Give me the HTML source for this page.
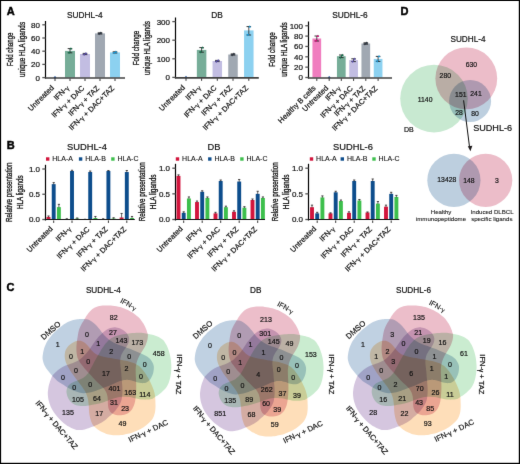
<!DOCTYPE html>
<html><head><meta charset="utf-8"><style>
html,body{margin:0;padding:0;background:#fff;}
svg{display:block;font-family:"Liberation Sans", sans-serif;will-change:transform;}
</style></head><body>
<svg width="520" height="464" viewBox="0 0 520 464">
<defs><filter id="soft" x="0" y="0" width="520" height="464" filterUnits="userSpaceOnUse" color-interpolation-filters="sRGB"><feConvolveMatrix order="3" kernelMatrix="0.00524 0.06192 0.00524 0.06192 0.73137 0.06192 0.00524 0.06192 0.00524" edgeMode="duplicate"/></filter></defs>
<g filter="url(#soft)">
<rect x="0" y="0" width="520" height="464" fill="#fff"/>
<line x1="45.50" y1="21.00" x2="45.50" y2="78.60" stroke="#000" stroke-width="1.2"/>
<line x1="42.30" y1="77.60" x2="45.50" y2="77.60" stroke="#555" stroke-width="1.3"/>
<text x="40.00" y="80.50" font-size="8" text-anchor="end" fill="#111" stroke="#111" stroke-width="0.2">0</text>
<line x1="42.30" y1="64.40" x2="45.50" y2="64.40" stroke="#555" stroke-width="1.3"/>
<text x="40.00" y="67.30" font-size="8" text-anchor="end" fill="#111" stroke="#111" stroke-width="0.2">20</text>
<line x1="42.30" y1="51.20" x2="45.50" y2="51.20" stroke="#555" stroke-width="1.3"/>
<text x="40.00" y="54.10" font-size="8" text-anchor="end" fill="#111" stroke="#111" stroke-width="0.2">40</text>
<line x1="42.30" y1="38.00" x2="45.50" y2="38.00" stroke="#555" stroke-width="1.3"/>
<text x="40.00" y="40.90" font-size="8" text-anchor="end" fill="#111" stroke="#111" stroke-width="0.2">60</text>
<line x1="42.30" y1="24.80" x2="45.50" y2="24.80" stroke="#555" stroke-width="1.3"/>
<text x="40.00" y="27.70" font-size="8" text-anchor="end" fill="#111" stroke="#111" stroke-width="0.2">80</text>
<path d="M53.50,77.60 L55.00,76.00 L56.50,77.60 L55.00,79.20 Z" fill="#1f55a5"/>
<rect x="65.00" y="50.90" width="10.00" height="26.70" fill="#76ad98"/>
<line x1="70.00" y1="48.60" x2="70.00" y2="52.80" stroke="#222" stroke-width="0.8"/>
<line x1="67.70" y1="48.60" x2="72.30" y2="48.60" stroke="#222" stroke-width="0.9"/>
<line x1="67.70" y1="52.80" x2="72.30" y2="52.80" stroke="#222" stroke-width="0.9"/>
<path d="M69.50,49.50 L72.30,49.50 L70.90,47.30 Z" fill="#14704c"/>
<path d="M67.70,51.90 L70.50,51.90 L69.10,54.10 Z" fill="#14704c"/>
<rect x="80.00" y="54.00" width="10.00" height="23.60" fill="#c2bde2"/>
<line x1="85.00" y1="53.40" x2="85.00" y2="54.60" stroke="#222" stroke-width="0.8"/>
<line x1="82.70" y1="53.40" x2="87.30" y2="53.40" stroke="#222" stroke-width="0.9"/>
<line x1="82.70" y1="54.60" x2="87.30" y2="54.60" stroke="#222" stroke-width="0.9"/>
<path d="M84.50,54.30 L87.30,54.30 L85.90,52.10 Z" fill="#5a4eae"/>
<path d="M82.70,53.70 L85.50,53.70 L84.10,55.90 Z" fill="#5a4eae"/>
<rect x="95.00" y="33.40" width="10.00" height="44.20" fill="#a0a8b2"/>
<line x1="100.00" y1="32.80" x2="100.00" y2="34.00" stroke="#222" stroke-width="0.8"/>
<line x1="97.70" y1="32.80" x2="102.30" y2="32.80" stroke="#222" stroke-width="0.9"/>
<line x1="97.70" y1="34.00" x2="102.30" y2="34.00" stroke="#222" stroke-width="0.9"/>
<path d="M99.50,33.70 L102.30,33.70 L100.90,31.50 Z" fill="#2b3440"/>
<path d="M97.70,33.10 L100.50,33.10 L99.10,35.30 Z" fill="#2b3440"/>
<rect x="110.00" y="52.40" width="10.00" height="25.20" fill="#8cd1f0"/>
<line x1="115.00" y1="51.80" x2="115.00" y2="53.00" stroke="#222" stroke-width="0.8"/>
<line x1="112.70" y1="51.80" x2="117.30" y2="51.80" stroke="#222" stroke-width="0.9"/>
<line x1="112.70" y1="53.00" x2="117.30" y2="53.00" stroke="#222" stroke-width="0.9"/>
<path d="M114.50,52.70 L117.30,52.70 L115.90,50.50 Z" fill="#1697d8"/>
<path d="M112.70,52.10 L115.50,52.10 L114.10,54.30 Z" fill="#1697d8"/>
<line x1="44.90" y1="78.05" x2="125.00" y2="78.05" stroke="#404040" stroke-width="1.55"/>
<line x1="55.00" y1="78.60" x2="55.00" y2="81.00" stroke="#333" stroke-width="1.0"/>
<line x1="70.00" y1="78.60" x2="70.00" y2="81.00" stroke="#333" stroke-width="1.0"/>
<line x1="85.00" y1="78.60" x2="85.00" y2="81.00" stroke="#333" stroke-width="1.0"/>
<line x1="100.00" y1="78.60" x2="100.00" y2="81.00" stroke="#333" stroke-width="1.0"/>
<line x1="115.00" y1="78.60" x2="115.00" y2="81.00" stroke="#333" stroke-width="1.0"/>
<text x="0.00" y="0.00" font-size="7.5" text-anchor="end" transform="translate(54.40,88.30) rotate(-45)" fill="#111" stroke="#111" stroke-width="0.2">Untreated</text>
<text x="0.00" y="0.00" font-size="7.5" text-anchor="end" transform="translate(69.40,88.30) rotate(-45)" fill="#111" stroke="#111" stroke-width="0.2">IFN-<tspan font-size="0.85em" dy="0.6">γ</tspan><tspan dy="-0.6"></tspan></text>
<text x="0.00" y="0.00" font-size="7.5" text-anchor="end" transform="translate(84.40,88.30) rotate(-45)" fill="#111" stroke="#111" stroke-width="0.2">IFN-<tspan font-size="0.85em" dy="0.6">γ</tspan><tspan dy="-0.6"></tspan> + DAC</text>
<text x="0.00" y="0.00" font-size="7.5" text-anchor="end" transform="translate(99.40,88.30) rotate(-45)" fill="#111" stroke="#111" stroke-width="0.2">IFN-<tspan font-size="0.85em" dy="0.6">γ</tspan><tspan dy="-0.6"></tspan> + TAZ</text>
<text x="0.00" y="0.00" font-size="7.5" text-anchor="end" transform="translate(114.40,88.30) rotate(-45)" fill="#111" stroke="#111" stroke-width="0.2">IFN-<tspan font-size="0.85em" dy="0.6">γ</tspan><tspan dy="-0.6"></tspan> + DAC+TAZ</text>
<text x="84.80" y="18.20" font-size="8.3" text-anchor="middle" fill="#111" stroke="#111" stroke-width="0.2">SUDHL-4</text>
<text x="0.00" y="0.00" font-size="8.2" text-anchor="middle" textLength="33.8" lengthAdjust="spacingAndGlyphs" transform="translate(13.40,49.40) rotate(-90)" fill="#111" stroke="#111" stroke-width="0.3">Fold change</text>
<text x="0.00" y="0.00" font-size="8.2" text-anchor="middle" textLength="55" lengthAdjust="spacingAndGlyphs" transform="translate(25.20,49.40) rotate(-90)" fill="#111" stroke="#111" stroke-width="0.3">unique HLA ligands</text>
<line x1="175.50" y1="17.50" x2="175.50" y2="78.40" stroke="#000" stroke-width="1.2"/>
<line x1="172.30" y1="77.40" x2="175.50" y2="77.40" stroke="#555" stroke-width="1.3"/>
<text x="170.00" y="80.30" font-size="8" text-anchor="end" fill="#111" stroke="#111" stroke-width="0.2">0</text>
<line x1="172.30" y1="58.80" x2="175.50" y2="58.80" stroke="#555" stroke-width="1.3"/>
<text x="170.00" y="61.70" font-size="8" text-anchor="end" fill="#111" stroke="#111" stroke-width="0.2">100</text>
<line x1="172.30" y1="40.20" x2="175.50" y2="40.20" stroke="#555" stroke-width="1.3"/>
<text x="170.00" y="43.10" font-size="8" text-anchor="end" fill="#111" stroke="#111" stroke-width="0.2">200</text>
<line x1="172.30" y1="21.60" x2="175.50" y2="21.60" stroke="#555" stroke-width="1.3"/>
<text x="170.00" y="24.50" font-size="8" text-anchor="end" fill="#111" stroke="#111" stroke-width="0.2">300</text>
<path d="M184.50,77.40 L186.00,75.80 L187.50,77.40 L186.00,79.00 Z" fill="#1f55a5"/>
<rect x="196.85" y="49.90" width="9.50" height="27.50" fill="#76ad98"/>
<line x1="201.60" y1="47.60" x2="201.60" y2="52.20" stroke="#222" stroke-width="0.8"/>
<line x1="199.30" y1="47.60" x2="203.90" y2="47.60" stroke="#222" stroke-width="0.9"/>
<line x1="199.30" y1="52.20" x2="203.90" y2="52.20" stroke="#222" stroke-width="0.9"/>
<path d="M201.10,48.50 L203.90,48.50 L202.50,46.30 Z" fill="#14704c"/>
<path d="M199.30,51.30 L202.10,51.30 L200.70,53.50 Z" fill="#14704c"/>
<rect x="212.55" y="61.00" width="9.50" height="16.40" fill="#c2bde2"/>
<line x1="217.30" y1="60.40" x2="217.30" y2="61.60" stroke="#222" stroke-width="0.8"/>
<line x1="215.00" y1="60.40" x2="219.60" y2="60.40" stroke="#222" stroke-width="0.9"/>
<line x1="215.00" y1="61.60" x2="219.60" y2="61.60" stroke="#222" stroke-width="0.9"/>
<path d="M216.80,61.30 L219.60,61.30 L218.20,59.10 Z" fill="#5a4eae"/>
<path d="M215.00,60.70 L217.80,60.70 L216.40,62.90 Z" fill="#5a4eae"/>
<rect x="228.25" y="54.50" width="9.50" height="22.90" fill="#a0a8b2"/>
<line x1="233.00" y1="53.90" x2="233.00" y2="55.10" stroke="#222" stroke-width="0.8"/>
<line x1="230.70" y1="53.90" x2="235.30" y2="53.90" stroke="#222" stroke-width="0.9"/>
<line x1="230.70" y1="55.10" x2="235.30" y2="55.10" stroke="#222" stroke-width="0.9"/>
<path d="M232.50,54.80 L235.30,54.80 L233.90,52.60 Z" fill="#2b3440"/>
<path d="M230.70,54.20 L233.50,54.20 L232.10,56.40 Z" fill="#2b3440"/>
<rect x="244.05" y="30.40" width="9.50" height="47.00" fill="#8cd1f0"/>
<line x1="248.80" y1="26.60" x2="248.80" y2="35.00" stroke="#222" stroke-width="0.8"/>
<line x1="246.50" y1="26.60" x2="251.10" y2="26.60" stroke="#222" stroke-width="0.9"/>
<line x1="246.50" y1="35.00" x2="251.10" y2="35.00" stroke="#222" stroke-width="0.9"/>
<path d="M248.30,27.50 L251.10,27.50 L249.70,25.30 Z" fill="#1697d8"/>
<path d="M246.50,34.10 L249.30,34.10 L247.90,36.30 Z" fill="#1697d8"/>
<line x1="174.90" y1="77.85" x2="258.80" y2="77.85" stroke="#404040" stroke-width="1.55"/>
<line x1="186.00" y1="78.40" x2="186.00" y2="80.80" stroke="#333" stroke-width="1.0"/>
<line x1="201.60" y1="78.40" x2="201.60" y2="80.80" stroke="#333" stroke-width="1.0"/>
<line x1="217.30" y1="78.40" x2="217.30" y2="80.80" stroke="#333" stroke-width="1.0"/>
<line x1="233.00" y1="78.40" x2="233.00" y2="80.80" stroke="#333" stroke-width="1.0"/>
<line x1="248.80" y1="78.40" x2="248.80" y2="80.80" stroke="#333" stroke-width="1.0"/>
<text x="0.00" y="0.00" font-size="7.5" text-anchor="end" transform="translate(185.40,88.10) rotate(-45)" fill="#111" stroke="#111" stroke-width="0.2">Untreated</text>
<text x="0.00" y="0.00" font-size="7.5" text-anchor="end" transform="translate(201.00,88.10) rotate(-45)" fill="#111" stroke="#111" stroke-width="0.2">IFN-<tspan font-size="0.85em" dy="0.6">γ</tspan><tspan dy="-0.6"></tspan></text>
<text x="0.00" y="0.00" font-size="7.5" text-anchor="end" transform="translate(216.70,88.10) rotate(-45)" fill="#111" stroke="#111" stroke-width="0.2">IFN-<tspan font-size="0.85em" dy="0.6">γ</tspan><tspan dy="-0.6"></tspan> + DAC</text>
<text x="0.00" y="0.00" font-size="7.5" text-anchor="end" transform="translate(232.40,88.10) rotate(-45)" fill="#111" stroke="#111" stroke-width="0.2">IFN-<tspan font-size="0.85em" dy="0.6">γ</tspan><tspan dy="-0.6"></tspan> + TAZ</text>
<text x="0.00" y="0.00" font-size="7.5" text-anchor="end" transform="translate(248.20,88.10) rotate(-45)" fill="#111" stroke="#111" stroke-width="0.2">IFN-<tspan font-size="0.85em" dy="0.6">γ</tspan><tspan dy="-0.6"></tspan> + DAC+TAZ</text>
<text x="217.00" y="18.20" font-size="8.3" text-anchor="middle" fill="#111" stroke="#111" stroke-width="0.2">DB</text>
<text x="0.00" y="0.00" font-size="8.2" text-anchor="middle" textLength="34.7" lengthAdjust="spacingAndGlyphs" transform="translate(138.60,48.00) rotate(-90)" fill="#111" stroke="#111" stroke-width="0.3">Fold change</text>
<text x="0.00" y="0.00" font-size="8.2" text-anchor="middle" textLength="53.8" lengthAdjust="spacingAndGlyphs" transform="translate(150.20,48.00) rotate(-90)" fill="#111" stroke="#111" stroke-width="0.3">unique HLA ligands</text>
<line x1="308.50" y1="21.50" x2="308.50" y2="78.50" stroke="#000" stroke-width="1.2"/>
<line x1="305.30" y1="77.50" x2="308.50" y2="77.50" stroke="#555" stroke-width="1.3"/>
<text x="303.00" y="80.40" font-size="8" text-anchor="end" fill="#111" stroke="#111" stroke-width="0.2">0</text>
<line x1="305.30" y1="67.15" x2="308.50" y2="67.15" stroke="#555" stroke-width="1.3"/>
<text x="303.00" y="70.05" font-size="8" text-anchor="end" fill="#111" stroke="#111" stroke-width="0.2">20</text>
<line x1="305.30" y1="56.80" x2="308.50" y2="56.80" stroke="#555" stroke-width="1.3"/>
<text x="303.00" y="59.70" font-size="8" text-anchor="end" fill="#111" stroke="#111" stroke-width="0.2">40</text>
<line x1="305.30" y1="46.45" x2="308.50" y2="46.45" stroke="#555" stroke-width="1.3"/>
<text x="303.00" y="49.35" font-size="8" text-anchor="end" fill="#111" stroke="#111" stroke-width="0.2">60</text>
<line x1="305.30" y1="36.10" x2="308.50" y2="36.10" stroke="#555" stroke-width="1.3"/>
<text x="303.00" y="39.00" font-size="8" text-anchor="end" fill="#111" stroke="#111" stroke-width="0.2">80</text>
<line x1="305.30" y1="25.75" x2="308.50" y2="25.75" stroke="#555" stroke-width="1.3"/>
<text x="303.00" y="28.65" font-size="8" text-anchor="end" fill="#111" stroke="#111" stroke-width="0.2">100</text>
<rect x="312.45" y="38.50" width="8.70" height="39.00" fill="#f07dbf"/>
<line x1="316.80" y1="36.00" x2="316.80" y2="41.00" stroke="#222" stroke-width="0.8"/>
<line x1="314.50" y1="36.00" x2="319.10" y2="36.00" stroke="#222" stroke-width="0.9"/>
<line x1="314.50" y1="41.00" x2="319.10" y2="41.00" stroke="#222" stroke-width="0.9"/>
<path d="M316.30,36.90 L319.10,36.90 L317.70,34.70 Z" fill="#d4147c"/>
<path d="M314.50,40.10 L317.30,40.10 L315.90,42.30 Z" fill="#d4147c"/>
<path d="M327.70,77.50 L329.20,75.90 L330.70,77.50 L329.20,79.10 Z" fill="#1f55a5"/>
<rect x="336.95" y="56.20" width="8.70" height="21.30" fill="#76ad98"/>
<line x1="341.30" y1="55.00" x2="341.30" y2="57.60" stroke="#222" stroke-width="0.8"/>
<line x1="339.00" y1="55.00" x2="343.60" y2="55.00" stroke="#222" stroke-width="0.9"/>
<line x1="339.00" y1="57.60" x2="343.60" y2="57.60" stroke="#222" stroke-width="0.9"/>
<path d="M340.80,55.90 L343.60,55.90 L342.20,53.70 Z" fill="#14704c"/>
<path d="M339.00,56.70 L341.80,56.70 L340.40,58.90 Z" fill="#14704c"/>
<rect x="349.25" y="60.10" width="8.70" height="17.40" fill="#c2bde2"/>
<line x1="353.60" y1="58.80" x2="353.60" y2="61.60" stroke="#222" stroke-width="0.8"/>
<line x1="351.30" y1="58.80" x2="355.90" y2="58.80" stroke="#222" stroke-width="0.9"/>
<line x1="351.30" y1="61.60" x2="355.90" y2="61.60" stroke="#222" stroke-width="0.9"/>
<path d="M353.10,59.70 L355.90,59.70 L354.50,57.50 Z" fill="#5a4eae"/>
<path d="M351.30,60.70 L354.10,60.70 L352.70,62.90 Z" fill="#5a4eae"/>
<rect x="361.45" y="43.50" width="8.70" height="34.00" fill="#a0a8b2"/>
<line x1="365.80" y1="42.80" x2="365.80" y2="44.20" stroke="#222" stroke-width="0.8"/>
<line x1="363.50" y1="42.80" x2="368.10" y2="42.80" stroke="#222" stroke-width="0.9"/>
<line x1="363.50" y1="44.20" x2="368.10" y2="44.20" stroke="#222" stroke-width="0.9"/>
<path d="M365.30,43.70 L368.10,43.70 L366.70,41.50 Z" fill="#2b3440"/>
<path d="M363.50,43.30 L366.30,43.30 L364.90,45.50 Z" fill="#2b3440"/>
<rect x="373.75" y="58.90" width="8.70" height="18.60" fill="#8cd1f0"/>
<line x1="378.10" y1="56.40" x2="378.10" y2="61.40" stroke="#222" stroke-width="0.8"/>
<line x1="375.80" y1="56.40" x2="380.40" y2="56.40" stroke="#222" stroke-width="0.9"/>
<line x1="375.80" y1="61.40" x2="380.40" y2="61.40" stroke="#222" stroke-width="0.9"/>
<path d="M377.60,57.30 L380.40,57.30 L379.00,55.10 Z" fill="#1697d8"/>
<path d="M375.80,60.50 L378.60,60.50 L377.20,62.70 Z" fill="#1697d8"/>
<line x1="307.90" y1="77.95" x2="392.00" y2="77.95" stroke="#404040" stroke-width="1.55"/>
<line x1="316.80" y1="78.50" x2="316.80" y2="80.90" stroke="#333" stroke-width="1.0"/>
<line x1="329.20" y1="78.50" x2="329.20" y2="80.90" stroke="#333" stroke-width="1.0"/>
<line x1="341.30" y1="78.50" x2="341.30" y2="80.90" stroke="#333" stroke-width="1.0"/>
<line x1="353.60" y1="78.50" x2="353.60" y2="80.90" stroke="#333" stroke-width="1.0"/>
<line x1="365.80" y1="78.50" x2="365.80" y2="80.90" stroke="#333" stroke-width="1.0"/>
<line x1="378.10" y1="78.50" x2="378.10" y2="80.90" stroke="#333" stroke-width="1.0"/>
<text x="0.00" y="0.00" font-size="7.5" text-anchor="end" transform="translate(316.20,88.60) rotate(-45)" fill="#111" stroke="#111" stroke-width="0.2">Healthy B cells</text>
<text x="0.00" y="0.00" font-size="7.5" text-anchor="end" transform="translate(328.60,88.60) rotate(-45)" fill="#111" stroke="#111" stroke-width="0.2">Untreated</text>
<text x="0.00" y="0.00" font-size="7.5" text-anchor="end" transform="translate(340.70,88.60) rotate(-45)" fill="#111" stroke="#111" stroke-width="0.2">IFN-<tspan font-size="0.85em" dy="0.6">γ</tspan><tspan dy="-0.6"></tspan></text>
<text x="0.00" y="0.00" font-size="7.5" text-anchor="end" transform="translate(353.00,88.60) rotate(-45)" fill="#111" stroke="#111" stroke-width="0.2">IFN-<tspan font-size="0.85em" dy="0.6">γ</tspan><tspan dy="-0.6"></tspan> + DAC</text>
<text x="0.00" y="0.00" font-size="7.5" text-anchor="end" transform="translate(365.20,88.60) rotate(-45)" fill="#111" stroke="#111" stroke-width="0.2">IFN-<tspan font-size="0.85em" dy="0.6">γ</tspan><tspan dy="-0.6"></tspan> + TAZ</text>
<text x="0.00" y="0.00" font-size="7.5" text-anchor="end" transform="translate(377.50,88.60) rotate(-45)" fill="#111" stroke="#111" stroke-width="0.2">IFN-<tspan font-size="0.85em" dy="0.6">γ</tspan><tspan dy="-0.6"></tspan> + DAC+TAZ</text>
<text x="350.00" y="18.20" font-size="8.3" text-anchor="middle" fill="#111" stroke="#111" stroke-width="0.2">SUDHL-6</text>
<text x="0.00" y="0.00" font-size="8.2" text-anchor="middle" textLength="34.5" lengthAdjust="spacingAndGlyphs" transform="translate(275.20,49.60) rotate(-90)" fill="#111" stroke="#111" stroke-width="0.3">Fold change</text>
<text x="0.00" y="0.00" font-size="8.2" text-anchor="middle" textLength="54.3" lengthAdjust="spacingAndGlyphs" transform="translate(287.20,49.60) rotate(-90)" fill="#111" stroke="#111" stroke-width="0.3">unique HLA ligands</text>
<text x="6.70" y="14.70" font-size="11" text-anchor="start" font-weight="bold" fill="#000" stroke="#000" stroke-width="0.45">A</text>
<text x="6.80" y="149.10" font-size="11" text-anchor="start" font-weight="bold" fill="#000" stroke="#000" stroke-width="0.45">B</text>
<text x="6.60" y="291.10" font-size="11" text-anchor="start" font-weight="bold" fill="#000" stroke="#000" stroke-width="0.45">C</text>
<text x="400.60" y="14.60" font-size="11" text-anchor="start" font-weight="bold" fill="#000" stroke="#000" stroke-width="0.45">D</text>
<line x1="45.50" y1="164.80" x2="45.50" y2="220.50" stroke="#000" stroke-width="1.2"/>
<line x1="42.30" y1="219.50" x2="45.50" y2="219.50" stroke="#555" stroke-width="1.3"/>
<text x="40.00" y="222.40" font-size="8" text-anchor="end" fill="#111" stroke="#111" stroke-width="0.2">0.0</text>
<line x1="42.30" y1="194.25" x2="45.50" y2="194.25" stroke="#555" stroke-width="1.3"/>
<text x="40.00" y="197.15" font-size="8" text-anchor="end" fill="#111" stroke="#111" stroke-width="0.2">0.5</text>
<line x1="42.30" y1="169.00" x2="45.50" y2="169.00" stroke="#555" stroke-width="1.3"/>
<text x="40.00" y="171.90" font-size="8" text-anchor="end" fill="#111" stroke="#111" stroke-width="0.2">1.0</text>
<rect x="46.55" y="216.97" width="3.90" height="2.53" fill="#d2153c"/>
<line x1="48.50" y1="215.97" x2="48.50" y2="217.28" stroke="#231f20" stroke-width="0.7"/>
<line x1="47.40" y1="215.97" x2="49.60" y2="215.97" stroke="#231f20" stroke-width="0.8"/>
<rect x="51.75" y="184.15" width="3.90" height="35.35" fill="#0d4d8c"/>
<line x1="53.70" y1="182.63" x2="53.70" y2="184.45" stroke="#231f20" stroke-width="0.7"/>
<line x1="52.60" y1="182.63" x2="54.80" y2="182.63" stroke="#231f20" stroke-width="0.8"/>
<rect x="56.95" y="207.13" width="3.90" height="12.37" fill="#3dbf4c"/>
<line x1="58.90" y1="204.35" x2="58.90" y2="207.43" stroke="#231f20" stroke-width="0.7"/>
<line x1="57.80" y1="204.35" x2="60.00" y2="204.35" stroke="#231f20" stroke-width="0.8"/>
<rect x="64.85" y="219.00" width="3.90" height="0.50" fill="#d2153c"/>
<line x1="66.80" y1="218.74" x2="66.80" y2="219.30" stroke="#231f20" stroke-width="0.7"/>
<line x1="65.70" y1="218.74" x2="67.90" y2="218.74" stroke="#231f20" stroke-width="0.8"/>
<rect x="70.05" y="171.02" width="3.90" height="48.48" fill="#0d4d8c"/>
<line x1="72.00" y1="170.26" x2="72.00" y2="171.32" stroke="#231f20" stroke-width="0.7"/>
<line x1="70.90" y1="170.26" x2="73.10" y2="170.26" stroke="#231f20" stroke-width="0.8"/>
<rect x="75.25" y="218.49" width="3.90" height="1.01" fill="#3dbf4c"/>
<line x1="77.20" y1="217.99" x2="77.20" y2="218.79" stroke="#231f20" stroke-width="0.7"/>
<line x1="76.10" y1="217.99" x2="78.30" y2="217.99" stroke="#231f20" stroke-width="0.8"/>
<rect x="83.05" y="219.25" width="3.90" height="0.25" fill="#d2153c"/>
<line x1="85.00" y1="219.25" x2="85.00" y2="219.55" stroke="#231f20" stroke-width="0.7"/>
<line x1="83.90" y1="219.25" x2="86.10" y2="219.25" stroke="#231f20" stroke-width="0.8"/>
<rect x="88.25" y="172.03" width="3.90" height="47.47" fill="#0d4d8c"/>
<line x1="90.20" y1="171.02" x2="90.20" y2="172.33" stroke="#231f20" stroke-width="0.7"/>
<line x1="89.10" y1="171.02" x2="91.30" y2="171.02" stroke="#231f20" stroke-width="0.8"/>
<rect x="93.45" y="217.99" width="3.90" height="1.51" fill="#3dbf4c"/>
<line x1="95.40" y1="216.47" x2="95.40" y2="218.29" stroke="#231f20" stroke-width="0.7"/>
<line x1="94.30" y1="216.47" x2="96.50" y2="216.47" stroke="#231f20" stroke-width="0.8"/>
<rect x="101.25" y="219.00" width="3.90" height="0.50" fill="#d2153c"/>
<line x1="103.20" y1="218.74" x2="103.20" y2="219.30" stroke="#231f20" stroke-width="0.7"/>
<line x1="102.10" y1="218.74" x2="104.30" y2="218.74" stroke="#231f20" stroke-width="0.8"/>
<rect x="106.45" y="171.02" width="3.90" height="48.48" fill="#0d4d8c"/>
<line x1="108.40" y1="170.51" x2="108.40" y2="171.32" stroke="#231f20" stroke-width="0.7"/>
<line x1="107.30" y1="170.51" x2="109.50" y2="170.51" stroke="#231f20" stroke-width="0.8"/>
<rect x="111.65" y="218.49" width="3.90" height="1.01" fill="#3dbf4c"/>
<line x1="113.60" y1="217.73" x2="113.60" y2="218.79" stroke="#231f20" stroke-width="0.7"/>
<line x1="112.50" y1="217.73" x2="114.70" y2="217.73" stroke="#231f20" stroke-width="0.8"/>
<rect x="119.65" y="217.48" width="3.90" height="2.02" fill="#d2153c"/>
<line x1="121.60" y1="213.44" x2="121.60" y2="217.78" stroke="#231f20" stroke-width="0.7"/>
<line x1="120.50" y1="213.44" x2="122.70" y2="213.44" stroke="#231f20" stroke-width="0.8"/>
<rect x="124.85" y="172.03" width="3.90" height="47.47" fill="#0d4d8c"/>
<line x1="126.80" y1="170.51" x2="126.80" y2="172.33" stroke="#231f20" stroke-width="0.7"/>
<line x1="125.70" y1="170.51" x2="127.90" y2="170.51" stroke="#231f20" stroke-width="0.8"/>
<rect x="130.05" y="217.99" width="3.90" height="1.51" fill="#3dbf4c"/>
<line x1="132.00" y1="216.47" x2="132.00" y2="218.29" stroke="#231f20" stroke-width="0.7"/>
<line x1="130.90" y1="216.47" x2="133.10" y2="216.47" stroke="#231f20" stroke-width="0.8"/>
<line x1="44.90" y1="219.50" x2="134.80" y2="219.50" stroke="#111" stroke-width="1.0"/>
<line x1="53.70" y1="220.50" x2="53.70" y2="222.90" stroke="#333" stroke-width="1.0"/>
<line x1="72.00" y1="220.50" x2="72.00" y2="222.90" stroke="#333" stroke-width="1.0"/>
<line x1="90.20" y1="220.50" x2="90.20" y2="222.90" stroke="#333" stroke-width="1.0"/>
<line x1="108.40" y1="220.50" x2="108.40" y2="222.90" stroke="#333" stroke-width="1.0"/>
<line x1="126.80" y1="220.50" x2="126.80" y2="222.90" stroke="#333" stroke-width="1.0"/>
<text x="0.00" y="0.00" font-size="7.5" text-anchor="end" transform="translate(53.10,229.40) rotate(-45)" fill="#111" stroke="#111" stroke-width="0.2">Untreated</text>
<text x="0.00" y="0.00" font-size="7.5" text-anchor="end" transform="translate(71.40,229.40) rotate(-45)" fill="#111" stroke="#111" stroke-width="0.2">IFN-<tspan font-size="0.85em" dy="0.6">γ</tspan><tspan dy="-0.6"></tspan></text>
<text x="0.00" y="0.00" font-size="7.5" text-anchor="end" transform="translate(89.60,229.40) rotate(-45)" fill="#111" stroke="#111" stroke-width="0.2">IFN-<tspan font-size="0.85em" dy="0.6">γ</tspan><tspan dy="-0.6"></tspan> + DAC</text>
<text x="0.00" y="0.00" font-size="7.5" text-anchor="end" transform="translate(107.80,229.40) rotate(-45)" fill="#111" stroke="#111" stroke-width="0.2">IFN-<tspan font-size="0.85em" dy="0.6">γ</tspan><tspan dy="-0.6"></tspan> + TAZ</text>
<text x="0.00" y="0.00" font-size="7.5" text-anchor="end" transform="translate(126.20,229.40) rotate(-45)" fill="#111" stroke="#111" stroke-width="0.2">IFN-<tspan font-size="0.85em" dy="0.6">γ</tspan><tspan dy="-0.6"></tspan> + DAC+TAZ</text>
<text x="87.00" y="150.40" font-size="9.3" text-anchor="middle" fill="#111" stroke="#111" stroke-width="0.2">SUDHL-4</text>
<rect x="46.00" y="157.30" width="3.40" height="3.40" fill="#d2153c"/>
<text x="52.30" y="161.30" font-size="7" text-anchor="start" fill="#111" stroke="#111" stroke-width="0.1">HLA-A</text>
<rect x="78.90" y="157.30" width="3.40" height="3.40" fill="#0d4d8c"/>
<text x="85.20" y="161.30" font-size="7" text-anchor="start" fill="#111" stroke="#111" stroke-width="0.1">HLA-B</text>
<rect x="111.20" y="157.30" width="3.40" height="3.40" fill="#3dbf4c"/>
<text x="117.50" y="161.30" font-size="7" text-anchor="start" fill="#111" stroke="#111" stroke-width="0.1">HLA-C</text>
<text x="0.00" y="0.00" font-size="8.2" text-anchor="middle" textLength="59.7" lengthAdjust="spacingAndGlyphs" transform="translate(12.10,192.20) rotate(-90)" fill="#111" stroke="#111" stroke-width="0.3">Relative presentation</text>
<text x="0.00" y="0.00" font-size="8.2" text-anchor="middle" textLength="33.5" lengthAdjust="spacingAndGlyphs" transform="translate(23.40,192.20) rotate(-90)" fill="#111" stroke="#111" stroke-width="0.3">HLA ligands</text>
<line x1="175.50" y1="163.80" x2="175.50" y2="220.50" stroke="#000" stroke-width="1.2"/>
<line x1="172.30" y1="219.50" x2="175.50" y2="219.50" stroke="#555" stroke-width="1.3"/>
<text x="170.00" y="222.40" font-size="8" text-anchor="end" fill="#111" stroke="#111" stroke-width="0.2">0.0</text>
<line x1="172.30" y1="193.85" x2="175.50" y2="193.85" stroke="#555" stroke-width="1.3"/>
<text x="170.00" y="196.75" font-size="8" text-anchor="end" fill="#111" stroke="#111" stroke-width="0.2">0.5</text>
<line x1="172.30" y1="168.20" x2="175.50" y2="168.20" stroke="#555" stroke-width="1.3"/>
<text x="170.00" y="171.10" font-size="8" text-anchor="end" fill="#111" stroke="#111" stroke-width="0.2">1.0</text>
<rect x="176.55" y="175.89" width="3.90" height="43.61" fill="#d2153c"/>
<line x1="178.50" y1="174.87" x2="178.50" y2="176.19" stroke="#231f20" stroke-width="0.7"/>
<line x1="177.40" y1="174.87" x2="179.60" y2="174.87" stroke="#231f20" stroke-width="0.8"/>
<rect x="181.75" y="212.83" width="3.90" height="6.67" fill="#0d4d8c"/>
<line x1="183.70" y1="211.81" x2="183.70" y2="213.13" stroke="#231f20" stroke-width="0.7"/>
<line x1="182.60" y1="211.81" x2="184.80" y2="211.81" stroke="#231f20" stroke-width="0.8"/>
<rect x="186.95" y="198.47" width="3.90" height="21.03" fill="#3dbf4c"/>
<line x1="188.90" y1="196.93" x2="188.90" y2="198.77" stroke="#231f20" stroke-width="0.7"/>
<line x1="187.80" y1="196.93" x2="190.00" y2="196.93" stroke="#231f20" stroke-width="0.8"/>
<rect x="195.05" y="202.06" width="3.90" height="17.44" fill="#d2153c"/>
<line x1="197.00" y1="201.03" x2="197.00" y2="202.36" stroke="#231f20" stroke-width="0.7"/>
<line x1="195.90" y1="201.03" x2="198.10" y2="201.03" stroke="#231f20" stroke-width="0.8"/>
<rect x="200.25" y="191.80" width="3.90" height="27.70" fill="#0d4d8c"/>
<line x1="202.20" y1="190.77" x2="202.20" y2="192.10" stroke="#231f20" stroke-width="0.7"/>
<line x1="201.10" y1="190.77" x2="203.30" y2="190.77" stroke="#231f20" stroke-width="0.8"/>
<rect x="205.45" y="197.95" width="3.90" height="21.55" fill="#3dbf4c"/>
<line x1="207.40" y1="196.93" x2="207.40" y2="198.25" stroke="#231f20" stroke-width="0.7"/>
<line x1="206.30" y1="196.93" x2="208.50" y2="196.93" stroke="#231f20" stroke-width="0.8"/>
<rect x="213.55" y="213.34" width="3.90" height="6.16" fill="#d2153c"/>
<line x1="215.50" y1="212.32" x2="215.50" y2="213.64" stroke="#231f20" stroke-width="0.7"/>
<line x1="214.40" y1="212.32" x2="216.60" y2="212.32" stroke="#231f20" stroke-width="0.8"/>
<rect x="218.75" y="181.02" width="3.90" height="38.48" fill="#0d4d8c"/>
<line x1="220.70" y1="180.00" x2="220.70" y2="181.32" stroke="#231f20" stroke-width="0.7"/>
<line x1="219.60" y1="180.00" x2="221.80" y2="180.00" stroke="#231f20" stroke-width="0.8"/>
<rect x="223.95" y="207.19" width="3.90" height="12.31" fill="#3dbf4c"/>
<line x1="225.90" y1="206.16" x2="225.90" y2="207.49" stroke="#231f20" stroke-width="0.7"/>
<line x1="224.80" y1="206.16" x2="227.00" y2="206.16" stroke="#231f20" stroke-width="0.8"/>
<rect x="232.05" y="211.81" width="3.90" height="7.69" fill="#d2153c"/>
<line x1="234.00" y1="210.78" x2="234.00" y2="212.11" stroke="#231f20" stroke-width="0.7"/>
<line x1="232.90" y1="210.78" x2="235.10" y2="210.78" stroke="#231f20" stroke-width="0.8"/>
<rect x="237.25" y="181.54" width="3.90" height="37.96" fill="#0d4d8c"/>
<line x1="239.20" y1="179.49" x2="239.20" y2="181.84" stroke="#231f20" stroke-width="0.7"/>
<line x1="238.10" y1="179.49" x2="240.30" y2="179.49" stroke="#231f20" stroke-width="0.8"/>
<rect x="242.45" y="207.70" width="3.90" height="11.80" fill="#3dbf4c"/>
<line x1="244.40" y1="206.68" x2="244.40" y2="208.00" stroke="#231f20" stroke-width="0.7"/>
<line x1="243.30" y1="206.68" x2="245.50" y2="206.68" stroke="#231f20" stroke-width="0.8"/>
<rect x="250.55" y="200.01" width="3.90" height="19.49" fill="#d2153c"/>
<line x1="252.50" y1="198.98" x2="252.50" y2="200.31" stroke="#231f20" stroke-width="0.7"/>
<line x1="251.40" y1="198.98" x2="253.60" y2="198.98" stroke="#231f20" stroke-width="0.8"/>
<rect x="255.75" y="193.85" width="3.90" height="25.65" fill="#0d4d8c"/>
<line x1="257.70" y1="191.28" x2="257.70" y2="194.15" stroke="#231f20" stroke-width="0.7"/>
<line x1="256.60" y1="191.28" x2="258.80" y2="191.28" stroke="#231f20" stroke-width="0.8"/>
<rect x="260.95" y="197.95" width="3.90" height="21.55" fill="#3dbf4c"/>
<line x1="262.90" y1="196.93" x2="262.90" y2="198.25" stroke="#231f20" stroke-width="0.7"/>
<line x1="261.80" y1="196.93" x2="264.00" y2="196.93" stroke="#231f20" stroke-width="0.8"/>
<line x1="174.90" y1="219.50" x2="265.00" y2="219.50" stroke="#111" stroke-width="1.0"/>
<line x1="183.70" y1="220.50" x2="183.70" y2="222.90" stroke="#333" stroke-width="1.0"/>
<line x1="202.20" y1="220.50" x2="202.20" y2="222.90" stroke="#333" stroke-width="1.0"/>
<line x1="220.70" y1="220.50" x2="220.70" y2="222.90" stroke="#333" stroke-width="1.0"/>
<line x1="239.20" y1="220.50" x2="239.20" y2="222.90" stroke="#333" stroke-width="1.0"/>
<line x1="257.70" y1="220.50" x2="257.70" y2="222.90" stroke="#333" stroke-width="1.0"/>
<text x="0.00" y="0.00" font-size="7.5" text-anchor="end" transform="translate(183.10,229.40) rotate(-45)" fill="#111" stroke="#111" stroke-width="0.2">Untreated</text>
<text x="0.00" y="0.00" font-size="7.5" text-anchor="end" transform="translate(201.60,229.40) rotate(-45)" fill="#111" stroke="#111" stroke-width="0.2">IFN-<tspan font-size="0.85em" dy="0.6">γ</tspan><tspan dy="-0.6"></tspan></text>
<text x="0.00" y="0.00" font-size="7.5" text-anchor="end" transform="translate(220.10,229.40) rotate(-45)" fill="#111" stroke="#111" stroke-width="0.2">IFN-<tspan font-size="0.85em" dy="0.6">γ</tspan><tspan dy="-0.6"></tspan> + DAC</text>
<text x="0.00" y="0.00" font-size="7.5" text-anchor="end" transform="translate(238.60,229.40) rotate(-45)" fill="#111" stroke="#111" stroke-width="0.2">IFN-<tspan font-size="0.85em" dy="0.6">γ</tspan><tspan dy="-0.6"></tspan> + TAZ</text>
<text x="0.00" y="0.00" font-size="7.5" text-anchor="end" transform="translate(257.10,229.40) rotate(-45)" fill="#111" stroke="#111" stroke-width="0.2">IFN-<tspan font-size="0.85em" dy="0.6">γ</tspan><tspan dy="-0.6"></tspan> + DAC+TAZ</text>
<text x="214.00" y="150.40" font-size="9.3" text-anchor="middle" fill="#111" stroke="#111" stroke-width="0.2">DB</text>
<rect x="175.80" y="157.30" width="3.40" height="3.40" fill="#d2153c"/>
<text x="182.10" y="161.30" font-size="7" text-anchor="start" fill="#111" stroke="#111" stroke-width="0.1">HLA-A</text>
<rect x="208.10" y="157.30" width="3.40" height="3.40" fill="#0d4d8c"/>
<text x="214.40" y="161.30" font-size="7" text-anchor="start" fill="#111" stroke="#111" stroke-width="0.1">HLA-B</text>
<rect x="240.20" y="157.30" width="3.40" height="3.40" fill="#3dbf4c"/>
<text x="246.50" y="161.30" font-size="7" text-anchor="start" fill="#111" stroke="#111" stroke-width="0.1">HLA-C</text>
<text x="0.00" y="0.00" font-size="8.2" text-anchor="middle" textLength="59.0" lengthAdjust="spacingAndGlyphs" transform="translate(144.60,191.80) rotate(-90)" fill="#111" stroke="#111" stroke-width="0.3">Relative presentation</text>
<text x="0.00" y="0.00" font-size="8.2" text-anchor="middle" textLength="34.8" lengthAdjust="spacingAndGlyphs" transform="translate(156.00,191.80) rotate(-90)" fill="#111" stroke="#111" stroke-width="0.3">HLA ligands</text>
<line x1="308.50" y1="163.80" x2="308.50" y2="220.50" stroke="#000" stroke-width="1.2"/>
<line x1="305.30" y1="219.50" x2="308.50" y2="219.50" stroke="#555" stroke-width="1.3"/>
<text x="303.00" y="222.40" font-size="8" text-anchor="end" fill="#111" stroke="#111" stroke-width="0.2">0.0</text>
<line x1="305.30" y1="193.85" x2="308.50" y2="193.85" stroke="#555" stroke-width="1.3"/>
<text x="303.00" y="196.75" font-size="8" text-anchor="end" fill="#111" stroke="#111" stroke-width="0.2">0.5</text>
<line x1="305.30" y1="168.20" x2="308.50" y2="168.20" stroke="#555" stroke-width="1.3"/>
<text x="303.00" y="171.10" font-size="8" text-anchor="end" fill="#111" stroke="#111" stroke-width="0.2">1.0</text>
<rect x="310.05" y="207.19" width="3.90" height="12.31" fill="#d2153c"/>
<line x1="312.00" y1="205.14" x2="312.00" y2="207.49" stroke="#231f20" stroke-width="0.7"/>
<line x1="310.90" y1="205.14" x2="313.10" y2="205.14" stroke="#231f20" stroke-width="0.8"/>
<rect x="315.25" y="213.34" width="3.90" height="6.16" fill="#0d4d8c"/>
<line x1="317.20" y1="212.32" x2="317.20" y2="213.64" stroke="#231f20" stroke-width="0.7"/>
<line x1="316.10" y1="212.32" x2="318.30" y2="212.32" stroke="#231f20" stroke-width="0.8"/>
<rect x="320.45" y="197.44" width="3.90" height="22.06" fill="#3dbf4c"/>
<line x1="322.40" y1="195.90" x2="322.40" y2="197.74" stroke="#231f20" stroke-width="0.7"/>
<line x1="321.30" y1="195.90" x2="323.50" y2="195.90" stroke="#231f20" stroke-width="0.8"/>
<rect x="328.55" y="213.34" width="3.90" height="6.16" fill="#d2153c"/>
<line x1="330.50" y1="212.83" x2="330.50" y2="213.64" stroke="#231f20" stroke-width="0.7"/>
<line x1="329.40" y1="212.83" x2="331.60" y2="212.83" stroke="#231f20" stroke-width="0.8"/>
<rect x="333.75" y="192.31" width="3.90" height="27.19" fill="#0d4d8c"/>
<line x1="335.70" y1="191.28" x2="335.70" y2="192.61" stroke="#231f20" stroke-width="0.7"/>
<line x1="334.60" y1="191.28" x2="336.80" y2="191.28" stroke="#231f20" stroke-width="0.8"/>
<rect x="338.95" y="201.03" width="3.90" height="18.47" fill="#3dbf4c"/>
<line x1="340.90" y1="200.01" x2="340.90" y2="201.33" stroke="#231f20" stroke-width="0.7"/>
<line x1="339.80" y1="200.01" x2="342.00" y2="200.01" stroke="#231f20" stroke-width="0.8"/>
<rect x="347.05" y="212.83" width="3.90" height="6.67" fill="#d2153c"/>
<line x1="349.00" y1="211.81" x2="349.00" y2="213.13" stroke="#231f20" stroke-width="0.7"/>
<line x1="347.90" y1="211.81" x2="350.10" y2="211.81" stroke="#231f20" stroke-width="0.8"/>
<rect x="352.25" y="181.02" width="3.90" height="38.48" fill="#0d4d8c"/>
<line x1="354.20" y1="180.00" x2="354.20" y2="181.32" stroke="#231f20" stroke-width="0.7"/>
<line x1="353.10" y1="180.00" x2="355.30" y2="180.00" stroke="#231f20" stroke-width="0.8"/>
<rect x="357.45" y="200.52" width="3.90" height="18.98" fill="#3dbf4c"/>
<line x1="359.40" y1="199.49" x2="359.40" y2="200.82" stroke="#231f20" stroke-width="0.7"/>
<line x1="358.30" y1="199.49" x2="360.50" y2="199.49" stroke="#231f20" stroke-width="0.8"/>
<rect x="365.55" y="212.47" width="3.90" height="7.03" fill="#d2153c"/>
<line x1="367.50" y1="211.96" x2="367.50" y2="212.77" stroke="#231f20" stroke-width="0.7"/>
<line x1="366.40" y1="211.96" x2="368.60" y2="211.96" stroke="#231f20" stroke-width="0.8"/>
<rect x="370.75" y="181.02" width="3.90" height="38.48" fill="#0d4d8c"/>
<line x1="372.70" y1="178.97" x2="372.70" y2="181.32" stroke="#231f20" stroke-width="0.7"/>
<line x1="371.60" y1="178.97" x2="373.80" y2="178.97" stroke="#231f20" stroke-width="0.8"/>
<rect x="375.95" y="203.60" width="3.90" height="15.90" fill="#3dbf4c"/>
<line x1="377.90" y1="201.54" x2="377.90" y2="203.90" stroke="#231f20" stroke-width="0.7"/>
<line x1="376.80" y1="201.54" x2="379.00" y2="201.54" stroke="#231f20" stroke-width="0.8"/>
<rect x="384.05" y="206.68" width="3.90" height="12.82" fill="#d2153c"/>
<line x1="386.00" y1="205.14" x2="386.00" y2="206.98" stroke="#231f20" stroke-width="0.7"/>
<line x1="384.90" y1="205.14" x2="387.10" y2="205.14" stroke="#231f20" stroke-width="0.8"/>
<rect x="389.25" y="193.85" width="3.90" height="25.65" fill="#0d4d8c"/>
<line x1="391.20" y1="192.31" x2="391.20" y2="194.15" stroke="#231f20" stroke-width="0.7"/>
<line x1="390.10" y1="192.31" x2="392.30" y2="192.31" stroke="#231f20" stroke-width="0.8"/>
<rect x="394.45" y="196.93" width="3.90" height="22.57" fill="#3dbf4c"/>
<line x1="396.40" y1="195.39" x2="396.40" y2="197.23" stroke="#231f20" stroke-width="0.7"/>
<line x1="395.30" y1="195.39" x2="397.50" y2="195.39" stroke="#231f20" stroke-width="0.8"/>
<line x1="307.90" y1="219.50" x2="399.30" y2="219.50" stroke="#111" stroke-width="1.0"/>
<line x1="317.20" y1="220.50" x2="317.20" y2="222.90" stroke="#333" stroke-width="1.0"/>
<line x1="335.70" y1="220.50" x2="335.70" y2="222.90" stroke="#333" stroke-width="1.0"/>
<line x1="354.20" y1="220.50" x2="354.20" y2="222.90" stroke="#333" stroke-width="1.0"/>
<line x1="372.70" y1="220.50" x2="372.70" y2="222.90" stroke="#333" stroke-width="1.0"/>
<line x1="391.20" y1="220.50" x2="391.20" y2="222.90" stroke="#333" stroke-width="1.0"/>
<text x="0.00" y="0.00" font-size="7.5" text-anchor="end" transform="translate(316.60,229.40) rotate(-45)" fill="#111" stroke="#111" stroke-width="0.2">Untreated</text>
<text x="0.00" y="0.00" font-size="7.5" text-anchor="end" transform="translate(335.10,229.40) rotate(-45)" fill="#111" stroke="#111" stroke-width="0.2">IFN-<tspan font-size="0.85em" dy="0.6">γ</tspan><tspan dy="-0.6"></tspan></text>
<text x="0.00" y="0.00" font-size="7.5" text-anchor="end" transform="translate(353.60,229.40) rotate(-45)" fill="#111" stroke="#111" stroke-width="0.2">IFN-<tspan font-size="0.85em" dy="0.6">γ</tspan><tspan dy="-0.6"></tspan> + DAC</text>
<text x="0.00" y="0.00" font-size="7.5" text-anchor="end" transform="translate(372.10,229.40) rotate(-45)" fill="#111" stroke="#111" stroke-width="0.2">IFN-<tspan font-size="0.85em" dy="0.6">γ</tspan><tspan dy="-0.6"></tspan> + TAZ</text>
<text x="0.00" y="0.00" font-size="7.5" text-anchor="end" transform="translate(390.60,229.40) rotate(-45)" fill="#111" stroke="#111" stroke-width="0.2">IFN-<tspan font-size="0.85em" dy="0.6">γ</tspan><tspan dy="-0.6"></tspan> + DAC+TAZ</text>
<text x="353.00" y="150.40" font-size="9.3" text-anchor="middle" fill="#111" stroke="#111" stroke-width="0.2">SUDHL-6</text>
<rect x="309.80" y="157.30" width="3.40" height="3.40" fill="#d2153c"/>
<text x="316.10" y="161.30" font-size="7" text-anchor="start" fill="#111" stroke="#111" stroke-width="0.1">HLA-A</text>
<rect x="340.60" y="157.30" width="3.40" height="3.40" fill="#0d4d8c"/>
<text x="346.90" y="161.30" font-size="7" text-anchor="start" fill="#111" stroke="#111" stroke-width="0.1">HLA-B</text>
<rect x="372.30" y="157.30" width="3.40" height="3.40" fill="#3dbf4c"/>
<text x="378.60" y="161.30" font-size="7" text-anchor="start" fill="#111" stroke="#111" stroke-width="0.1">HLA-C</text>
<text x="0.00" y="0.00" font-size="8.2" text-anchor="middle" textLength="59.0" lengthAdjust="spacingAndGlyphs" transform="translate(277.60,191.80) rotate(-90)" fill="#111" stroke="#111" stroke-width="0.3">Relative presentation</text>
<text x="0.00" y="0.00" font-size="8.2" text-anchor="middle" textLength="34.8" lengthAdjust="spacingAndGlyphs" transform="translate(289.00,191.80) rotate(-90)" fill="#111" stroke="#111" stroke-width="0.3">HLA ligands</text>
<path d="M84.08,319.91C84.5,319.2 84.9,318.4 85.4,317.7C85.8,317.0 86.2,316.3 86.7,315.6C87.2,314.9 87.7,314.1 88.3,313.3C88.9,312.6 89.5,311.9 90.1,311.2C90.7,310.5 91.4,309.9 92.1,309.3C92.9,308.8 93.6,308.2 94.4,307.8C95.2,307.4 96.0,307.1 96.9,306.8C97.8,306.5 98.7,306.3 99.6,306.1C100.5,305.9 101.5,305.8 102.5,305.6C103.6,305.5 104.6,305.5 105.7,305.4C106.8,305.4 107.9,305.4 109.1,305.4C110.2,305.4 111.4,305.5 112.6,305.7C113.9,305.8 115.3,306.1 116.5,306.3C117.8,306.6 119.2,306.9 120.2,307.1C121.3,307.4 122.1,307.7 122.9,308.0C123.8,308.3 124.5,308.6 125.3,308.9C126.1,309.3 127.0,309.7 127.9,310.1C128.8,310.5 129.6,311.0 130.5,311.5C131.4,312.0 132.3,312.6 133.2,313.1C134.0,313.7 134.9,314.3 135.7,314.9C136.5,315.5 137.2,316.1 138.0,316.8C138.7,317.4 139.4,318.1 140.0,318.8C140.6,319.5 141.3,320.4 141.8,321.2C142.4,322.0 142.9,322.8 143.4,323.6C143.9,324.4 144.3,325.1 144.6,325.8C145.0,326.5 145.3,327.2 145.6,327.9C145.9,328.6 146.2,329.4 146.5,330.1C146.7,330.8 146.9,331.6 147.1,332.2C147.3,332.8 147.5,333.3 147.7,333.8C147.8,334.4 147.9,334.9 147.9,335.6C147.9,336.3 147.8,337.2 147.7,338.1C147.6,339.1 147.4,340.0 147.1,341.1C146.8,342.1 146.4,343.2 146.0,344.3C145.5,345.4 145.0,346.5 144.4,347.6C143.9,348.6 143.2,349.6 142.6,350.6C142.0,351.5 141.3,352.5 140.7,353.5C140.1,354.6 139.5,355.6 138.9,356.8C138.3,357.9 137.8,359.0 137.4,360.2C137.0,361.3 136.6,362.6 136.4,363.8C136.1,365.0 135.9,366.3 135.8,367.5C135.6,368.8 135.6,370.1 135.7,371.3C135.7,372.6 135.7,373.8 135.8,375.1C135.8,376.3 135.9,377.4 136.0,378.6C136.0,379.7 136.1,380.9 136.1,382.0C136.2,383.2 136.2,384.3 136.2,385.5C136.2,386.7 136.2,387.8 136.2,389.0C136.1,390.3 136.1,391.6 136.0,392.8C135.9,394.1 135.8,395.4 135.7,396.6C135.6,397.7 135.5,398.8 135.3,399.9C135.2,401.0 135.0,402.0 134.7,403.1C134.5,404.1 134.1,405.1 133.7,406.1C133.3,407.0 132.9,407.9 132.4,408.8C131.8,409.6 131.3,410.4 130.6,411.1C129.9,411.8 129.2,412.4 128.4,413.0C127.6,413.5 126.7,413.9 125.7,414.2C124.8,414.6 123.8,414.8 122.7,415.0C121.6,415.1 120.4,415.2 119.3,415.2C118.2,415.2 117.0,415.2 116.0,415.0C115.0,414.8 114.0,414.4 113.2,414.0C112.3,413.6 111.5,413.1 110.9,412.5C110.2,411.9 109.8,411.1 109.3,410.3C108.9,409.5 108.6,408.6 108.4,407.7C108.2,406.8 108.1,405.9 108.0,404.9C107.9,404.0 107.9,403.0 107.9,402.0C107.8,401.1 107.8,400.3 107.8,399.4C107.7,398.6 107.7,397.7 107.6,396.9C107.4,396.1 107.3,395.3 107.0,394.5C106.8,393.7 106.5,392.9 106.1,392.1C105.8,391.4 105.3,390.6 104.8,389.8C104.2,389.0 103.6,388.2 102.8,387.3C101.9,386.4 100.7,385.3 99.6,384.2C98.5,383.2 97.3,382.0 96.1,380.9C95.0,379.8 94.0,378.6 92.9,377.5C91.9,376.4 90.9,375.2 89.9,374.2C89.0,373.2 88.1,372.3 87.3,371.4C86.4,370.5 85.6,369.7 84.8,368.8C84.1,367.9 83.3,367.0 82.7,366.1C82.0,365.2 81.3,364.3 80.7,363.4C80.1,362.5 79.5,361.7 79.0,360.7C78.5,359.8 78.0,358.9 77.6,357.9C77.3,356.9 77.1,355.8 76.9,354.7C76.7,353.6 76.6,352.5 76.5,351.4C76.4,350.4 76.4,349.4 76.4,348.4C76.4,347.4 76.4,346.5 76.5,345.4C76.6,344.4 76.7,343.3 76.8,342.2C77.0,341.1 77.1,340.0 77.3,338.8C77.5,337.5 77.7,336.1 77.9,334.9C78.1,333.6 78.4,332.2 78.7,331.0C79.0,329.8 79.4,328.8 79.8,327.7C80.2,326.7 80.7,325.7 81.2,324.8C81.6,323.9 82.1,323.1 82.6,322.2C83.1,321.4 83.6,320.7 84.1,319.9Z" fill="rgb(236,190,202)" style="mix-blend-mode:multiply"/>
<path d="M148.54,334.11C149.4,334.3 150.2,334.4 151.0,334.6C151.9,334.7 152.6,334.9 153.5,335.1C154.3,335.4 155.2,335.6 156.1,335.9C157.0,336.2 157.8,336.6 158.7,337.0C159.5,337.4 160.3,337.9 161.0,338.4C161.8,338.9 162.5,339.5 163.1,340.1C163.8,340.8 164.3,341.5 164.8,342.2C165.3,343.0 165.8,343.8 166.2,344.6C166.7,345.5 167.1,346.4 167.5,347.3C167.9,348.2 168.3,349.2 168.6,350.3C169.0,351.3 169.3,352.3 169.6,353.5C169.9,354.6 170.2,355.7 170.4,356.9C170.7,358.2 170.8,359.6 171.0,360.9C171.1,362.2 171.2,363.6 171.3,364.7C171.3,365.8 171.4,366.6 171.4,367.5C171.3,368.4 171.3,369.2 171.2,370.1C171.2,371.1 171.1,372.0 171.0,373.0C170.9,374.0 170.7,375.0 170.5,376.0C170.4,377.0 170.1,378.0 169.9,379.0C169.6,380.0 169.3,381.1 169.0,382.0C168.6,383.0 168.3,383.8 167.8,384.7C167.4,385.6 167.0,386.4 166.4,387.2C165.8,388.0 165.2,388.8 164.5,389.6C163.8,390.3 163.1,391.0 162.4,391.6C161.8,392.3 161.1,392.8 160.5,393.3C159.9,393.8 159.3,394.3 158.6,394.8C158.0,395.2 157.3,395.7 156.7,396.1C156.0,396.5 155.3,396.9 154.8,397.3C154.2,397.6 153.8,397.9 153.3,398.2C152.8,398.5 152.4,398.7 151.7,398.9C151.0,399.1 150.1,399.3 149.2,399.4C148.3,399.5 147.3,399.6 146.3,399.6C145.3,399.7 144.1,399.6 143.0,399.6C141.9,399.5 140.7,399.4 139.5,399.2C138.4,399.0 137.4,398.7 136.2,398.5C135.1,398.3 134.0,398.0 132.9,397.7C131.7,397.5 130.5,397.3 129.3,397.1C128.1,396.9 126.8,396.8 125.6,396.7C124.3,396.7 123.1,396.7 121.8,396.8C120.6,396.9 119.3,397.1 118.1,397.3C116.9,397.6 115.7,398.0 114.5,398.3C113.3,398.7 112.1,399.1 111.0,399.5C109.8,399.9 108.7,400.3 107.6,400.7C106.5,401.1 105.4,401.5 104.3,401.9C103.3,402.2 102.2,402.6 101.0,402.9C99.9,403.2 98.8,403.5 97.7,403.8C96.5,404.1 95.2,404.3 94.0,404.6C92.8,404.8 91.5,405.0 90.4,405.2C89.2,405.4 88.1,405.6 87.0,405.7C85.9,405.9 84.9,406.0 83.8,406.0C82.8,406.1 81.7,406.1 80.7,406.0C79.6,405.9 78.6,405.8 77.6,405.5C76.7,405.3 75.7,405.1 74.8,404.7C73.9,404.3 73.1,403.9 72.3,403.3C71.5,402.8 70.8,402.1 70.2,401.3C69.6,400.6 69.0,399.7 68.5,398.8C68.0,397.9 67.5,396.8 67.2,395.7C66.9,394.7 66.6,393.6 66.5,392.6C66.4,391.5 66.5,390.5 66.7,389.6C66.9,388.7 67.2,387.8 67.6,387.0C68.0,386.2 68.6,385.5 69.3,384.8C69.9,384.2 70.7,383.6 71.5,383.1C72.3,382.6 73.2,382.1 74.1,381.7C75.0,381.3 76.0,381.0 76.8,380.7C77.7,380.3 78.5,380.1 79.3,379.7C80.0,379.4 80.8,379.1 81.5,378.7C82.3,378.4 83.0,378.0 83.7,377.5C84.3,377.0 85.0,376.5 85.6,375.9C86.3,375.3 86.8,374.7 87.4,374.0C88.0,373.2 88.6,372.4 89.2,371.4C89.9,370.3 90.6,368.9 91.3,367.5C92.1,366.2 92.8,364.6 93.6,363.2C94.3,361.8 95.1,360.5 95.9,359.1C96.6,357.8 97.4,356.5 98.1,355.3C98.8,354.0 99.4,352.9 100.0,351.9C100.6,350.8 101.2,349.8 101.8,348.8C102.4,347.8 103.1,346.8 103.8,345.9C104.4,345.0 105.1,344.1 105.8,343.3C106.5,342.5 107.2,341.7 107.9,340.9C108.6,340.2 109.3,339.5 110.2,338.9C111.1,338.3 112.1,337.7 113.1,337.3C114.1,336.8 115.2,336.4 116.1,336.1C117.1,335.7 118.0,335.4 119.0,335.2C119.9,334.9 120.9,334.7 121.9,334.5C122.9,334.4 124.0,334.2 125.1,334.0C126.2,333.9 127.4,333.7 128.6,333.6C129.8,333.4 131.2,333.2 132.5,333.1C133.8,332.9 135.2,332.8 136.4,332.7C137.6,332.7 138.7,332.7 139.8,332.8C140.9,332.8 142.0,332.9 143.0,333.1C144.0,333.2 144.9,333.4 145.9,333.5C146.8,333.7 147.7,333.9 148.5,334.1Z" fill="rgb(202,236,208)" style="mix-blend-mode:multiply"/>
<path d="M155.40,402.05C155.4,402.9 155.5,403.7 155.5,404.6C155.5,405.4 155.5,406.2 155.5,407.1C155.5,408.0 155.4,409.0 155.3,409.9C155.2,410.8 155.1,411.8 154.9,412.7C154.7,413.6 154.4,414.5 154.1,415.4C153.8,416.3 153.5,417.1 153.0,417.9C152.6,418.7 152.1,419.5 151.5,420.2C150.9,420.9 150.3,421.6 149.6,422.3C148.9,422.9 148.2,423.6 147.4,424.3C146.6,424.9 145.8,425.6 144.9,426.2C144.1,426.8 143.2,427.5 142.2,428.0C141.2,428.6 140.2,429.2 139.1,429.7C138.0,430.3 136.7,430.8 135.5,431.3C134.3,431.8 133.0,432.3 132.0,432.7C130.9,433.0 130.1,433.3 129.3,433.5C128.4,433.8 127.6,433.9 126.7,434.1C125.8,434.3 124.9,434.5 123.9,434.7C122.9,434.8 121.9,435.0 120.9,435.1C119.9,435.2 118.8,435.3 117.8,435.3C116.7,435.4 115.7,435.4 114.7,435.3C113.6,435.3 112.7,435.2 111.7,435.1C110.7,435.0 109.8,434.8 108.8,434.6C107.9,434.3 106.9,434.0 105.9,433.7C105.0,433.3 104.1,432.9 103.2,432.5C102.4,432.2 101.7,431.8 101.0,431.4C100.3,431.1 99.7,430.7 99.0,430.2C98.4,429.8 97.7,429.3 97.1,428.9C96.5,428.4 95.9,427.9 95.4,427.5C94.9,427.1 94.5,426.8 94.1,426.4C93.6,426.0 93.3,425.6 92.9,425.0C92.5,424.4 92.1,423.6 91.7,422.7C91.4,421.9 91.0,421.0 90.7,419.9C90.3,418.9 90.1,417.7 89.8,416.5C89.6,415.4 89.3,414.1 89.2,412.9C89.1,411.7 89.0,410.6 88.9,409.4C88.9,408.3 88.8,407.1 88.8,405.9C88.7,404.7 88.6,403.5 88.4,402.2C88.3,401.0 88.1,399.7 87.8,398.5C87.5,397.3 87.2,396.1 86.7,395.0C86.3,393.8 85.8,392.7 85.2,391.6C84.6,390.4 83.9,389.4 83.2,388.4C82.5,387.3 81.7,386.3 81.0,385.3C80.3,384.4 79.6,383.4 78.9,382.5C78.2,381.6 77.5,380.6 76.8,379.7C76.1,378.8 75.4,377.9 74.7,376.9C74.0,376.0 73.3,375.0 72.5,374.0C71.8,373.0 71.0,371.9 70.3,370.8C69.6,369.8 69.0,368.6 68.4,367.6C67.8,366.6 67.2,365.6 66.8,364.6C66.3,363.6 65.9,362.6 65.6,361.6C65.3,360.6 65.1,359.5 64.9,358.5C64.7,357.5 64.7,356.4 64.7,355.4C64.7,354.4 64.8,353.4 65.0,352.5C65.2,351.5 65.4,350.6 65.8,349.7C66.3,348.8 66.8,348.0 67.4,347.2C68.0,346.4 68.7,345.6 69.5,344.9C70.3,344.2 71.2,343.5 72.2,342.9C73.1,342.3 74.1,341.8 75.0,341.4C76.0,341.1 76.9,340.9 77.9,340.7C78.8,340.6 79.8,340.6 80.6,340.8C81.5,341.0 82.3,341.3 83.1,341.7C83.9,342.1 84.7,342.7 85.4,343.2C86.1,343.8 86.7,344.5 87.4,345.2C88.0,345.9 88.6,346.6 89.1,347.3C89.7,348.0 90.2,348.6 90.7,349.3C91.2,349.9 91.7,350.6 92.3,351.1C92.9,351.7 93.5,352.3 94.1,352.8C94.8,353.3 95.4,353.8 96.2,354.2C96.9,354.6 97.7,355.0 98.6,355.3C99.5,355.7 100.4,356.0 101.6,356.3C102.8,356.6 104.4,356.9 105.9,357.2C107.4,357.5 109.1,357.7 110.7,358.0C112.2,358.3 113.8,358.7 115.3,359.0C116.8,359.2 118.4,359.5 119.8,359.8C121.2,360.0 122.4,360.2 123.6,360.4C124.9,360.6 126.0,360.8 127.2,361.1C128.3,361.4 129.4,361.7 130.5,362.0C131.5,362.4 132.5,362.7 133.5,363.1C134.5,363.5 135.5,363.9 136.4,364.4C137.3,364.9 138.2,365.4 139.1,366.0C139.9,366.7 140.7,367.6 141.5,368.4C142.2,369.2 143.0,370.2 143.6,371.1C144.3,371.9 144.9,372.7 145.4,373.6C146.0,374.4 146.6,375.3 147.1,376.2C147.7,377.1 148.2,378.0 148.8,379.1C149.3,380.1 149.8,381.1 150.4,382.2C150.9,383.4 151.5,384.7 152.1,385.9C152.6,387.2 153.2,388.5 153.6,389.7C154.0,390.9 154.2,392.0 154.5,393.1C154.7,394.2 154.9,395.3 155.1,396.3C155.2,397.4 155.3,398.3 155.3,399.3C155.4,400.2 155.4,401.2 155.4,402.0Z" fill="rgb(254,222,185)" style="mix-blend-mode:multiply"/>
<path d="M92.07,426.83C91.2,427.1 90.5,427.5 89.7,427.8C88.9,428.1 88.2,428.4 87.4,428.6C86.5,428.9 85.6,429.2 84.7,429.4C83.8,429.6 82.9,429.8 82.0,429.9C81.0,430.0 80.1,430.1 79.2,430.1C78.3,430.1 77.3,430.0 76.5,429.9C75.6,429.7 74.7,429.4 73.9,429.1C73.0,428.8 72.2,428.4 71.3,428.0C70.5,427.6 69.6,427.1 68.8,426.6C67.9,426.1 67.0,425.5 66.2,424.9C65.3,424.2 64.4,423.6 63.5,422.9C62.6,422.1 61.7,421.4 60.8,420.5C59.9,419.6 58.9,418.5 58.0,417.6C57.2,416.6 56.2,415.5 55.5,414.6C54.8,413.7 54.3,413.1 53.8,412.3C53.3,411.5 52.9,410.9 52.4,410.1C52.0,409.3 51.5,408.4 51.1,407.5C50.7,406.6 50.3,405.7 50.0,404.7C49.6,403.8 49.3,402.8 49.0,401.8C48.7,400.8 48.5,399.7 48.3,398.7C48.2,397.7 48.0,396.8 47.9,395.8C47.9,394.8 47.8,393.9 47.8,392.9C47.8,391.9 47.9,390.9 48.1,389.9C48.2,389.0 48.3,388.0 48.5,387.1C48.7,386.2 48.8,385.4 49.0,384.7C49.2,383.9 49.4,383.2 49.7,382.4C49.9,381.7 50.2,380.9 50.5,380.2C50.7,379.5 51.0,378.8 51.3,378.2C51.5,377.6 51.7,377.1 51.9,376.6C52.2,376.1 52.4,375.6 52.9,375.1C53.3,374.5 53.9,373.9 54.6,373.2C55.2,372.5 55.9,371.9 56.7,371.2C57.6,370.5 58.5,369.7 59.4,369.0C60.4,368.3 61.4,367.6 62.5,367.0C63.5,366.5 64.5,366.1 65.6,365.6C66.6,365.2 67.7,364.9 68.8,364.5C70.0,364.0 71.1,363.6 72.3,363.2C73.4,362.7 74.6,362.2 75.7,361.7C76.8,361.1 77.9,360.5 79.0,359.9C80.0,359.2 81.1,358.5 82.0,357.7C83.0,356.9 83.8,356.0 84.7,355.1C85.6,354.2 86.4,353.2 87.1,352.3C87.9,351.4 88.6,350.5 89.3,349.5C90.0,348.6 90.6,347.7 91.3,346.7C92.0,345.8 92.6,344.8 93.3,343.8C93.9,342.9 94.5,341.9 95.2,340.9C96.0,340.0 96.8,338.9 97.6,338.0C98.4,337.0 99.2,336.1 100.1,335.3C100.9,334.4 101.6,333.7 102.4,332.9C103.2,332.2 104.0,331.5 104.9,330.9C105.7,330.3 106.6,329.8 107.5,329.3C108.5,328.8 109.4,328.4 110.3,328.1C111.2,327.8 112.2,327.6 113.1,327.5C114.1,327.4 115.0,327.3 116.0,327.4C116.9,327.5 117.9,327.7 118.8,328.0C119.7,328.3 120.7,328.7 121.6,329.2C122.5,329.7 123.5,330.3 124.4,331.0C125.2,331.7 126.1,332.4 126.8,333.2C127.4,334.0 127.9,334.8 128.3,335.7C128.7,336.5 129.0,337.4 129.1,338.3C129.2,339.2 129.1,340.1 129.0,341.0C128.8,341.9 128.6,342.8 128.2,343.6C127.9,344.5 127.4,345.3 126.9,346.1C126.4,346.9 125.8,347.7 125.3,348.5C124.8,349.2 124.3,349.9 123.8,350.6C123.4,351.3 122.9,351.9 122.5,352.7C122.1,353.4 121.7,354.1 121.4,354.8C121.1,355.6 120.9,356.4 120.7,357.2C120.5,358.1 120.3,358.9 120.3,359.8C120.2,360.8 120.1,361.7 120.2,363.0C120.3,364.2 120.4,365.8 120.6,367.3C120.8,368.9 121.0,370.5 121.2,372.1C121.3,373.7 121.4,375.3 121.5,376.8C121.7,378.3 121.8,379.9 121.9,381.3C122.0,382.7 122.1,383.9 122.2,385.1C122.3,386.4 122.4,387.5 122.4,388.7C122.5,389.9 122.5,391.0 122.4,392.1C122.4,393.3 122.3,394.3 122.2,395.4C122.1,396.5 122.0,397.5 121.8,398.6C121.6,399.6 121.4,400.6 121.0,401.6C120.7,402.6 120.1,403.6 119.6,404.5C119.1,405.5 118.4,406.5 117.8,407.3C117.2,408.2 116.7,408.9 116.0,409.7C115.4,410.5 114.8,411.2 114.0,412.0C113.3,412.8 112.6,413.5 111.8,414.3C111.0,415.1 110.1,415.8 109.2,416.6C108.3,417.5 107.3,418.4 106.3,419.2C105.3,420.1 104.2,420.9 103.2,421.6C102.2,422.3 101.2,422.8 100.2,423.3C99.3,423.9 98.3,424.3 97.4,424.8C96.4,425.2 95.5,425.5 94.6,425.9C93.8,426.2 92.9,426.5 92.1,426.8Z" fill="rgb(213,198,223)" style="mix-blend-mode:multiply"/>
<path d="M50.10,373.16C49.5,372.5 49.0,371.9 48.5,371.2C47.9,370.6 47.4,369.9 46.9,369.2C46.4,368.5 45.9,367.7 45.4,366.9C44.9,366.1 44.5,365.3 44.1,364.4C43.7,363.5 43.4,362.6 43.2,361.7C42.9,360.8 42.7,359.9 42.6,359.0C42.5,358.1 42.5,357.2 42.6,356.2C42.7,355.3 42.8,354.3 43.0,353.4C43.1,352.4 43.3,351.4 43.6,350.4C43.8,349.4 44.2,348.3 44.5,347.3C44.9,346.3 45.3,345.2 45.8,344.2C46.3,343.1 46.8,342.1 47.4,341.0C48.1,339.9 48.9,338.8 49.7,337.7C50.4,336.7 51.3,335.6 52.0,334.8C52.7,334.0 53.3,333.4 53.9,332.7C54.5,332.1 55.1,331.6 55.7,330.9C56.4,330.3 57.1,329.7 57.9,329.1C58.6,328.4 59.4,327.8 60.2,327.2C61.0,326.6 61.8,325.9 62.7,325.3C63.5,324.7 64.4,324.1 65.3,323.6C66.1,323.1 66.9,322.6 67.8,322.1C68.6,321.7 69.5,321.3 70.4,321.0C71.3,320.6 72.3,320.3 73.2,320.1C74.1,319.9 75.1,319.7 76.0,319.5C76.8,319.3 77.6,319.2 78.4,319.2C79.2,319.1 79.9,319.0 80.7,319.0C81.5,319.0 82.3,319.0 83.1,319.0C83.8,319.1 84.6,319.1 85.3,319.2C85.9,319.2 86.4,319.2 87.0,319.3C87.5,319.4 88.0,319.5 88.7,319.8C89.3,320.1 90.1,320.5 90.9,321.0C91.7,321.5 92.5,322.0 93.3,322.7C94.2,323.4 95.0,324.2 95.9,325.0C96.7,325.9 97.6,326.8 98.3,327.7C99.1,328.6 99.8,329.5 100.5,330.4C101.2,331.3 101.9,332.3 102.6,333.2C103.4,334.1 104.2,335.1 105.0,336.0C105.9,336.9 106.7,337.8 107.7,338.6C108.6,339.4 109.6,340.1 110.6,340.8C111.7,341.5 112.7,342.2 113.9,342.8C115.0,343.4 116.1,343.8 117.3,344.3C118.5,344.8 119.7,345.2 120.8,345.6C121.9,346.0 123.0,346.4 124.1,346.7C125.2,347.1 126.3,347.5 127.4,347.9C128.5,348.3 129.6,348.7 130.7,349.1C131.7,349.6 132.8,350.0 133.9,350.5C135.1,351.0 136.3,351.5 137.5,352.0C138.6,352.5 139.9,353.0 141.0,353.5C142.1,354.0 143.2,354.5 144.2,355.0C145.3,355.5 146.2,356.0 147.1,356.6C148.0,357.2 148.8,357.9 149.6,358.6C150.3,359.3 151.0,360.1 151.6,360.9C152.1,361.8 152.6,362.6 153.0,363.5C153.3,364.4 153.6,365.3 153.8,366.3C153.9,367.3 153.9,368.3 153.8,369.3C153.7,370.4 153.5,371.4 153.3,372.5C153.0,373.6 152.6,374.7 152.2,375.7C151.7,376.8 151.2,377.8 150.7,378.7C150.1,379.5 149.4,380.3 148.7,380.9C148.0,381.5 147.2,382.1 146.4,382.4C145.6,382.8 144.7,383.0 143.8,383.1C142.9,383.2 141.9,383.2 141.0,383.1C140.1,383.0 139.1,382.7 138.2,382.5C137.3,382.3 136.4,382.0 135.5,381.7C134.6,381.4 133.8,381.1 133.0,380.9C132.2,380.6 131.4,380.4 130.6,380.2C129.8,380.1 129.0,379.9 128.2,379.9C127.4,379.8 126.5,379.8 125.7,379.9C124.8,379.9 124.0,380.0 123.1,380.2C122.1,380.5 121.2,380.7 120.0,381.1C118.8,381.6 117.4,382.2 115.9,382.8C114.5,383.4 113.0,384.1 111.5,384.7C110.1,385.3 108.6,385.9 107.2,386.5C105.7,387.0 104.3,387.6 103.0,388.1C101.7,388.6 100.5,389.1 99.4,389.6C98.2,390.0 97.2,390.4 96.1,390.8C95.0,391.2 93.9,391.5 92.8,391.8C91.7,392.1 90.6,392.3 89.6,392.5C88.5,392.7 87.5,392.9 86.4,393.1C85.4,393.2 84.4,393.3 83.3,393.2C82.3,393.2 81.1,393.0 80.1,392.7C79.0,392.5 77.9,392.1 76.9,391.8C75.9,391.5 75.0,391.2 74.1,390.8C73.1,390.4 72.3,390.0 71.3,389.5C70.4,389.0 69.4,388.5 68.5,388.0C67.5,387.4 66.5,386.8 65.5,386.2C64.4,385.5 63.2,384.8 62.1,384.1C61.0,383.4 59.8,382.7 58.8,382.0C57.8,381.2 56.9,380.5 56.1,379.7C55.3,379.0 54.5,378.2 53.8,377.5C53.1,376.8 52.4,376.0 51.8,375.3C51.2,374.6 50.7,373.8 50.1,373.2Z" fill="rgb(192,209,226)" style="mix-blend-mode:multiply"/>
<text x="0.00" y="0.00" font-size="7.8" text-anchor="middle" transform="translate(57.80,346.50) scale(0.91,1)" fill="#111" stroke="#111" stroke-width="0.2">1</text>
<text x="0.00" y="0.00" font-size="7.8" text-anchor="middle" transform="translate(113.80,320.30) scale(0.91,1)" fill="#111" stroke="#111" stroke-width="0.2">82</text>
<text x="0.00" y="0.00" font-size="7.8" text-anchor="middle" transform="translate(158.70,355.80) scale(0.91,1)" fill="#111" stroke="#111" stroke-width="0.2">458</text>
<text x="0.00" y="0.00" font-size="7.8" text-anchor="middle" transform="translate(122.50,425.50) scale(0.91,1)" fill="#111" stroke="#111" stroke-width="0.2">49</text>
<text x="0.00" y="0.00" font-size="7.8" text-anchor="middle" transform="translate(68.00,414.60) scale(0.91,1)" fill="#111" stroke="#111" stroke-width="0.2">135</text>
<text x="0.00" y="0.00" font-size="7.8" text-anchor="middle" transform="translate(87.00,336.80) scale(0.91,1)" fill="#111" stroke="#111" stroke-width="0.2">0</text>
<text x="0.00" y="0.00" font-size="7.8" text-anchor="middle" transform="translate(113.00,335.20) scale(0.91,1)" fill="#111" stroke="#111" stroke-width="0.2">27</text>
<text x="0.00" y="0.00" font-size="7.8" text-anchor="middle" transform="translate(121.50,342.80) scale(0.91,1)" fill="#111" stroke="#111" stroke-width="0.2">143</text>
<text x="0.00" y="0.00" font-size="7.8" text-anchor="middle" transform="translate(137.30,345.10) scale(0.91,1)" fill="#111" stroke="#111" stroke-width="0.2">173</text>
<text x="0.00" y="0.00" font-size="7.8" text-anchor="middle" transform="translate(98.30,346.20) scale(0.91,1)" fill="#111" stroke="#111" stroke-width="0.2">1</text>
<text x="0.00" y="0.00" font-size="7.8" text-anchor="middle" transform="translate(82.30,353.70) scale(0.91,1)" fill="#111" stroke="#111" stroke-width="0.2">1</text>
<text x="0.00" y="0.00" font-size="7.8" text-anchor="middle" transform="translate(111.30,354.10) scale(0.91,1)" fill="#111" stroke="#111" stroke-width="0.2">2</text>
<text x="0.00" y="0.00" font-size="7.8" text-anchor="middle" transform="translate(129.30,359.00) scale(0.91,1)" fill="#111" stroke="#111" stroke-width="0.2">0</text>
<text x="0.00" y="0.00" font-size="7.8" text-anchor="middle" transform="translate(71.00,359.00) scale(0.91,1)" fill="#111" stroke="#111" stroke-width="0.2">0</text>
<text x="0.00" y="0.00" font-size="7.8" text-anchor="middle" transform="translate(88.10,363.70) scale(0.91,1)" fill="#111" stroke="#111" stroke-width="0.2">0</text>
<text x="0.00" y="0.00" font-size="7.8" text-anchor="middle" transform="translate(144.70,366.80) scale(0.91,1)" fill="#111" stroke="#111" stroke-width="0.2">0</text>
<text x="0.00" y="0.00" font-size="7.8" text-anchor="middle" transform="translate(126.50,370.70) scale(0.91,1)" fill="#111" stroke="#111" stroke-width="0.2">2</text>
<text x="0.00" y="0.00" font-size="7.8" text-anchor="middle" transform="translate(75.90,373.20) scale(0.91,1)" fill="#111" stroke="#111" stroke-width="0.2">0</text>
<text x="0.00" y="0.00" font-size="7.8" text-anchor="middle" transform="translate(105.90,375.50) scale(0.91,1)" fill="#111" stroke="#111" stroke-width="0.2">17</text>
<text x="0.00" y="0.00" font-size="7.8" text-anchor="middle" transform="translate(62.90,379.70) scale(0.91,1)" fill="#111" stroke="#111" stroke-width="0.2">0</text>
<text x="0.00" y="0.00" font-size="7.8" text-anchor="middle" transform="translate(140.90,378.90) scale(0.91,1)" fill="#111" stroke="#111" stroke-width="0.2">0</text>
<text x="0.00" y="0.00" font-size="7.8" text-anchor="middle" transform="translate(90.20,386.50) scale(0.91,1)" fill="#111" stroke="#111" stroke-width="0.2">0</text>
<text x="0.00" y="0.00" font-size="7.8" text-anchor="middle" transform="translate(74.20,389.90) scale(0.91,1)" fill="#111" stroke="#111" stroke-width="0.2">0</text>
<text x="0.00" y="0.00" font-size="7.8" text-anchor="middle" transform="translate(114.50,391.10) scale(0.91,1)" fill="#111" stroke="#111" stroke-width="0.2">401</text>
<text x="0.00" y="0.00" font-size="7.8" text-anchor="middle" transform="translate(130.20,395.00) scale(0.91,1)" fill="#111" stroke="#111" stroke-width="0.2">163</text>
<text x="0.00" y="0.00" font-size="7.8" text-anchor="middle" transform="translate(144.80,397.20) scale(0.91,1)" fill="#111" stroke="#111" stroke-width="0.2">114</text>
<text x="0.00" y="0.00" font-size="7.8" text-anchor="middle" transform="translate(78.00,402.10) scale(0.91,1)" fill="#111" stroke="#111" stroke-width="0.2">105</text>
<text x="0.00" y="0.00" font-size="7.8" text-anchor="middle" transform="translate(97.00,401.00) scale(0.91,1)" fill="#111" stroke="#111" stroke-width="0.2">64</text>
<text x="0.00" y="0.00" font-size="7.8" text-anchor="middle" transform="translate(113.90,405.00) scale(0.91,1)" fill="#111" stroke="#111" stroke-width="0.2">31</text>
<text x="0.00" y="0.00" font-size="7.8" text-anchor="middle" transform="translate(125.10,411.20) scale(0.91,1)" fill="#111" stroke="#111" stroke-width="0.2">23</text>
<text x="0.00" y="0.00" font-size="7.8" text-anchor="middle" transform="translate(99.30,415.80) scale(0.91,1)" fill="#111" stroke="#111" stroke-width="0.2">17</text>
<text x="103.40" y="292.70" font-size="8.2" text-anchor="middle" fill="#111" stroke="#111" stroke-width="0.2">SUDHL-4</text>
<text x="0.00" y="0.00" font-size="7.8" text-anchor="middle" transform="translate(52.50,332.50) rotate(-42)" fill="#111" stroke="#111" stroke-width="0.2">DMSO</text>
<text x="0.00" y="0.00" font-size="7.3" text-anchor="middle" transform="translate(127.30,306.30) rotate(28)" fill="#111" stroke="#111" stroke-width="0.1">IFN-<tspan font-size="0.85em" dy="0.6">γ</tspan><tspan dy="-0.6"></tspan></text>
<text x="0.00" y="0.00" font-size="7.5" text-anchor="middle" transform="translate(176.60,374.30) rotate(90)" fill="#111" stroke="#111" stroke-width="0.2">IFN-<tspan font-size="0.85em" dy="0.6">γ</tspan><tspan dy="-0.6"></tspan> + TAZ</text>
<text x="0.00" y="0.00" font-size="7.6" text-anchor="middle" transform="translate(149.20,432.90) rotate(-26.4)" fill="#111" stroke="#111" stroke-width="0.2">IFN-<tspan font-size="0.85em" dy="0.6">γ</tspan><tspan dy="-0.6"></tspan> + DAC</text>
<text x="0.00" y="0.00" font-size="7.6" text-anchor="middle" transform="translate(54.90,426.30) rotate(49.4)" fill="#111" stroke="#111" stroke-width="0.2">IFN-<tspan font-size="0.85em" dy="0.6">γ</tspan><tspan dy="-0.6"></tspan> + DAC+TAZ</text>
<path d="M236.28,321.11C236.7,320.4 237.1,319.6 237.6,318.9C238.0,318.2 238.4,317.5 238.9,316.8C239.4,316.1 239.9,315.3 240.5,314.5C241.1,313.8 241.7,313.1 242.3,312.4C242.9,311.7 243.6,311.1 244.3,310.5C245.1,310.0 245.8,309.4 246.6,309.0C247.4,308.6 248.2,308.3 249.1,308.0C250.0,307.7 250.9,307.5 251.8,307.3C252.7,307.1 253.7,307.0 254.7,306.8C255.8,306.7 256.8,306.7 257.9,306.6C259.0,306.6 260.1,306.6 261.3,306.6C262.4,306.6 263.6,306.7 264.8,306.9C266.1,307.0 267.5,307.3 268.7,307.5C270.0,307.8 271.4,308.1 272.4,308.3C273.5,308.6 274.3,308.9 275.1,309.2C276.0,309.5 276.7,309.8 277.5,310.1C278.3,310.5 279.2,310.9 280.1,311.3C281.0,311.7 281.8,312.2 282.7,312.7C283.6,313.2 284.5,313.8 285.4,314.3C286.2,314.9 287.1,315.5 287.9,316.1C288.7,316.7 289.4,317.3 290.2,318.0C290.9,318.6 291.6,319.3 292.2,320.0C292.8,320.7 293.5,321.6 294.0,322.4C294.6,323.2 295.1,324.0 295.6,324.8C296.1,325.6 296.5,326.3 296.8,327.0C297.2,327.7 297.5,328.4 297.8,329.1C298.1,329.8 298.4,330.6 298.7,331.3C298.9,332.0 299.1,332.8 299.3,333.4C299.5,334.0 299.7,334.5 299.9,335.0C300.0,335.6 300.1,336.1 300.1,336.8C300.1,337.5 300.0,338.4 299.9,339.3C299.8,340.3 299.6,341.2 299.3,342.3C299.0,343.3 298.6,344.4 298.2,345.5C297.7,346.6 297.2,347.7 296.6,348.8C296.1,349.8 295.4,350.8 294.8,351.8C294.2,352.7 293.5,353.7 292.9,354.7C292.3,355.8 291.7,356.8 291.1,358.0C290.5,359.1 290.0,360.2 289.6,361.4C289.2,362.5 288.8,363.8 288.6,365.0C288.3,366.2 288.1,367.5 288.0,368.7C287.8,370.0 287.8,371.3 287.9,372.5C287.9,373.8 287.9,375.0 288.0,376.3C288.0,377.5 288.1,378.6 288.2,379.8C288.2,380.9 288.3,382.1 288.3,383.2C288.4,384.4 288.4,385.5 288.4,386.7C288.4,387.9 288.4,389.0 288.4,390.2C288.3,391.5 288.3,392.8 288.2,394.0C288.1,395.3 288.0,396.6 287.9,397.8C287.8,398.9 287.7,400.0 287.5,401.1C287.4,402.2 287.2,403.2 286.9,404.3C286.7,405.3 286.3,406.3 285.9,407.3C285.5,408.2 285.1,409.1 284.6,410.0C284.0,410.8 283.5,411.6 282.8,412.3C282.1,413.0 281.4,413.6 280.6,414.2C279.8,414.7 278.9,415.1 277.9,415.4C277.0,415.8 276.0,416.0 274.9,416.2C273.8,416.3 272.6,416.4 271.5,416.4C270.4,416.4 269.2,416.4 268.2,416.2C267.2,416.0 266.2,415.6 265.4,415.2C264.5,414.8 263.7,414.3 263.1,413.7C262.4,413.1 262.0,412.3 261.5,411.5C261.1,410.7 260.8,409.8 260.6,408.9C260.4,408.0 260.3,407.1 260.2,406.1C260.1,405.2 260.1,404.2 260.1,403.2C260.0,402.3 260.0,401.5 260.0,400.6C259.9,399.8 259.9,398.9 259.8,398.1C259.6,397.3 259.5,396.5 259.2,395.7C259.0,394.9 258.7,394.1 258.3,393.3C258.0,392.6 257.5,391.8 257.0,391.0C256.4,390.2 255.8,389.4 255.0,388.5C254.1,387.6 252.9,386.5 251.8,385.4C250.7,384.4 249.5,383.2 248.3,382.1C247.2,381.0 246.2,379.8 245.1,378.7C244.1,377.6 243.1,376.4 242.1,375.4C241.2,374.4 240.3,373.5 239.5,372.6C238.6,371.7 237.8,370.9 237.0,370.0C236.3,369.1 235.5,368.2 234.9,367.3C234.2,366.4 233.5,365.5 232.9,364.6C232.3,363.7 231.7,362.9 231.2,361.9C230.7,361.0 230.2,360.1 229.8,359.1C229.5,358.1 229.3,357.0 229.1,355.9C228.9,354.8 228.8,353.7 228.7,352.6C228.6,351.6 228.6,350.6 228.6,349.6C228.6,348.6 228.6,347.7 228.7,346.6C228.8,345.6 228.9,344.5 229.0,343.4C229.2,342.3 229.3,341.2 229.5,340.0C229.7,338.7 229.9,337.3 230.1,336.1C230.3,334.8 230.6,333.4 230.9,332.2C231.2,331.0 231.6,330.0 232.0,328.9C232.4,327.9 232.9,326.9 233.4,326.0C233.8,325.1 234.3,324.3 234.8,323.4C235.3,322.6 235.8,321.9 236.3,321.1Z" fill="rgb(236,190,202)" style="mix-blend-mode:multiply"/>
<path d="M300.74,335.31C301.6,335.5 302.4,335.6 303.2,335.8C304.1,335.9 304.8,336.1 305.7,336.3C306.5,336.6 307.4,336.8 308.3,337.1C309.2,337.4 310.0,337.8 310.9,338.2C311.7,338.6 312.5,339.1 313.2,339.6C314.0,340.1 314.7,340.7 315.3,341.3C316.0,342.0 316.5,342.7 317.0,343.4C317.5,344.2 318.0,345.0 318.4,345.8C318.9,346.7 319.3,347.6 319.7,348.5C320.1,349.4 320.5,350.4 320.8,351.5C321.2,352.5 321.5,353.5 321.8,354.7C322.1,355.8 322.4,356.9 322.6,358.1C322.9,359.4 323.0,360.8 323.2,362.1C323.3,363.4 323.4,364.8 323.5,365.9C323.5,367.0 323.6,367.8 323.6,368.7C323.5,369.6 323.5,370.4 323.4,371.3C323.4,372.3 323.3,373.2 323.2,374.2C323.1,375.2 322.9,376.2 322.7,377.2C322.6,378.2 322.3,379.2 322.1,380.2C321.8,381.2 321.5,382.3 321.2,383.2C320.8,384.2 320.5,385.0 320.0,385.9C319.6,386.8 319.2,387.6 318.6,388.4C318.0,389.2 317.4,390.0 316.7,390.8C316.0,391.5 315.3,392.2 314.6,392.8C314.0,393.5 313.3,394.0 312.7,394.5C312.1,395.0 311.5,395.5 310.8,396.0C310.2,396.4 309.5,396.9 308.9,397.3C308.2,397.7 307.5,398.1 307.0,398.5C306.4,398.8 306.0,399.1 305.5,399.4C305.0,399.7 304.6,399.9 303.9,400.1C303.2,400.3 302.3,400.5 301.4,400.6C300.5,400.7 299.5,400.8 298.5,400.8C297.5,400.9 296.3,400.8 295.2,400.8C294.1,400.7 292.9,400.6 291.7,400.4C290.6,400.2 289.6,399.9 288.4,399.7C287.3,399.5 286.2,399.2 285.1,398.9C283.9,398.7 282.7,398.5 281.5,398.3C280.3,398.1 279.0,398.0 277.8,397.9C276.5,397.9 275.3,397.9 274.0,398.0C272.8,398.1 271.5,398.3 270.3,398.5C269.1,398.8 267.9,399.2 266.7,399.5C265.5,399.9 264.3,400.3 263.2,400.7C262.0,401.1 260.9,401.5 259.8,401.9C258.7,402.3 257.6,402.7 256.5,403.1C255.5,403.4 254.4,403.8 253.2,404.1C252.1,404.4 251.0,404.7 249.9,405.0C248.7,405.3 247.4,405.5 246.2,405.8C245.0,406.0 243.7,406.2 242.6,406.4C241.4,406.6 240.3,406.8 239.2,406.9C238.1,407.1 237.1,407.2 236.0,407.2C235.0,407.3 233.9,407.3 232.9,407.2C231.8,407.1 230.8,407.0 229.8,406.7C228.9,406.5 227.9,406.3 227.0,405.9C226.1,405.5 225.3,405.1 224.5,404.5C223.7,404.0 223.0,403.3 222.4,402.5C221.8,401.8 221.2,400.9 220.7,400.0C220.2,399.1 219.7,398.0 219.4,396.9C219.1,395.9 218.8,394.8 218.7,393.8C218.6,392.7 218.7,391.7 218.9,390.8C219.1,389.9 219.4,389.0 219.8,388.2C220.2,387.4 220.8,386.7 221.5,386.0C222.1,385.4 222.9,384.8 223.7,384.3C224.5,383.8 225.4,383.3 226.3,382.9C227.2,382.5 228.2,382.2 229.0,381.9C229.9,381.5 230.7,381.3 231.5,380.9C232.2,380.6 233.0,380.3 233.7,379.9C234.5,379.6 235.2,379.2 235.9,378.7C236.5,378.2 237.2,377.7 237.8,377.1C238.5,376.5 239.0,375.9 239.6,375.2C240.2,374.4 240.8,373.6 241.4,372.6C242.1,371.5 242.8,370.1 243.5,368.7C244.3,367.4 245.0,365.8 245.8,364.4C246.5,363.0 247.3,361.7 248.1,360.3C248.8,359.0 249.6,357.7 250.3,356.5C251.0,355.2 251.6,354.1 252.2,353.1C252.8,352.0 253.4,351.0 254.0,350.0C254.6,349.0 255.3,348.0 256.0,347.1C256.6,346.2 257.3,345.3 258.0,344.5C258.7,343.7 259.4,342.9 260.1,342.1C260.8,341.4 261.5,340.7 262.4,340.1C263.3,339.5 264.3,338.9 265.3,338.5C266.3,338.0 267.4,337.6 268.3,337.3C269.3,336.9 270.2,336.6 271.2,336.4C272.1,336.1 273.1,335.9 274.1,335.7C275.1,335.6 276.2,335.4 277.3,335.2C278.4,335.1 279.6,334.9 280.8,334.8C282.0,334.6 283.4,334.4 284.7,334.3C286.0,334.1 287.4,334.0 288.6,333.9C289.8,333.9 290.9,333.9 292.0,334.0C293.1,334.0 294.2,334.1 295.2,334.3C296.2,334.4 297.1,334.6 298.1,334.7C299.0,334.9 299.9,335.1 300.7,335.3Z" fill="rgb(202,236,208)" style="mix-blend-mode:multiply"/>
<path d="M307.60,403.25C307.6,404.1 307.7,404.9 307.7,405.8C307.7,406.6 307.7,407.4 307.7,408.3C307.7,409.2 307.6,410.2 307.5,411.1C307.4,412.0 307.3,413.0 307.1,413.9C306.9,414.8 306.6,415.7 306.3,416.6C306.0,417.5 305.7,418.3 305.2,419.1C304.8,419.9 304.3,420.7 303.7,421.4C303.1,422.1 302.5,422.8 301.8,423.5C301.1,424.1 300.4,424.8 299.6,425.5C298.8,426.1 298.0,426.8 297.1,427.4C296.3,428.0 295.4,428.7 294.4,429.2C293.4,429.8 292.4,430.4 291.3,430.9C290.2,431.5 288.9,432.0 287.7,432.5C286.5,433.0 285.2,433.5 284.2,433.9C283.1,434.2 282.3,434.5 281.5,434.7C280.6,435.0 279.8,435.1 278.9,435.3C278.0,435.5 277.1,435.7 276.1,435.9C275.1,436.0 274.1,436.2 273.1,436.3C272.1,436.4 271.0,436.5 270.0,436.5C268.9,436.6 267.9,436.6 266.9,436.5C265.8,436.5 264.9,436.4 263.9,436.3C262.9,436.2 262.0,436.0 261.0,435.8C260.1,435.5 259.1,435.2 258.1,434.9C257.2,434.5 256.3,434.1 255.4,433.7C254.6,433.4 253.9,433.0 253.2,432.6C252.5,432.3 251.9,431.9 251.2,431.4C250.6,431.0 249.9,430.5 249.3,430.1C248.7,429.6 248.1,429.1 247.6,428.7C247.1,428.3 246.7,428.0 246.3,427.6C245.8,427.2 245.5,426.8 245.1,426.2C244.7,425.6 244.3,424.8 243.9,423.9C243.6,423.1 243.2,422.2 242.9,421.1C242.5,420.1 242.3,418.9 242.0,417.7C241.8,416.6 241.5,415.3 241.4,414.1C241.3,412.9 241.2,411.8 241.1,410.6C241.1,409.5 241.0,408.3 241.0,407.1C240.9,405.9 240.8,404.7 240.6,403.4C240.5,402.2 240.3,400.9 240.0,399.7C239.7,398.5 239.4,397.3 238.9,396.2C238.5,395.0 238.0,393.9 237.4,392.8C236.8,391.6 236.1,390.6 235.4,389.6C234.7,388.5 233.9,387.5 233.2,386.5C232.5,385.6 231.8,384.6 231.1,383.7C230.4,382.8 229.7,381.8 229.0,380.9C228.3,380.0 227.6,379.1 226.9,378.1C226.2,377.2 225.5,376.2 224.7,375.2C224.0,374.2 223.2,373.1 222.5,372.0C221.8,371.0 221.2,369.8 220.6,368.8C220.0,367.8 219.4,366.8 219.0,365.8C218.5,364.8 218.1,363.8 217.8,362.8C217.5,361.8 217.3,360.7 217.1,359.7C216.9,358.7 216.9,357.6 216.9,356.6C216.9,355.6 217.0,354.6 217.2,353.7C217.4,352.7 217.6,351.8 218.0,350.9C218.5,350.0 219.0,349.2 219.6,348.4C220.2,347.6 220.9,346.8 221.7,346.1C222.5,345.4 223.4,344.7 224.4,344.1C225.3,343.5 226.3,343.0 227.2,342.6C228.2,342.3 229.1,342.1 230.1,341.9C231.0,341.8 232.0,341.8 232.8,342.0C233.7,342.2 234.5,342.5 235.3,342.9C236.1,343.3 236.9,343.9 237.6,344.4C238.3,345.0 238.9,345.7 239.6,346.4C240.2,347.1 240.8,347.8 241.3,348.5C241.9,349.2 242.4,349.8 242.9,350.5C243.4,351.1 243.9,351.8 244.5,352.3C245.1,352.9 245.7,353.5 246.3,354.0C247.0,354.5 247.6,355.0 248.4,355.4C249.1,355.8 249.9,356.2 250.8,356.5C251.7,356.9 252.6,357.2 253.8,357.5C255.0,357.8 256.6,358.1 258.1,358.4C259.6,358.7 261.3,358.9 262.9,359.2C264.4,359.5 266.0,359.9 267.5,360.2C269.0,360.4 270.6,360.7 272.0,361.0C273.4,361.2 274.6,361.4 275.8,361.6C277.1,361.8 278.2,362.0 279.4,362.3C280.5,362.6 281.6,362.9 282.7,363.2C283.7,363.6 284.7,363.9 285.7,364.3C286.7,364.7 287.7,365.1 288.6,365.6C289.5,366.1 290.4,366.6 291.3,367.2C292.1,367.9 292.9,368.8 293.7,369.6C294.4,370.4 295.2,371.4 295.8,372.3C296.5,373.1 297.1,373.9 297.6,374.8C298.2,375.6 298.8,376.5 299.3,377.4C299.9,378.3 300.4,379.2 301.0,380.3C301.5,381.3 302.0,382.3 302.6,383.4C303.1,384.6 303.7,385.9 304.3,387.1C304.8,388.4 305.4,389.7 305.8,390.9C306.2,392.1 306.4,393.2 306.7,394.3C306.9,395.4 307.1,396.5 307.3,397.5C307.4,398.6 307.5,399.5 307.5,400.5C307.6,401.4 307.6,402.4 307.6,403.2Z" fill="rgb(254,222,185)" style="mix-blend-mode:multiply"/>
<path d="M244.27,428.03C243.4,428.3 242.7,428.7 241.9,429.0C241.1,429.3 240.4,429.6 239.6,429.8C238.7,430.1 237.8,430.4 236.9,430.6C236.0,430.8 235.1,431.0 234.2,431.1C233.2,431.2 232.3,431.3 231.4,431.3C230.5,431.3 229.5,431.2 228.7,431.1C227.8,430.9 226.9,430.6 226.1,430.3C225.2,430.0 224.4,429.6 223.5,429.2C222.7,428.8 221.8,428.3 221.0,427.8C220.1,427.3 219.2,426.7 218.4,426.1C217.5,425.4 216.6,424.8 215.7,424.1C214.8,423.3 213.9,422.6 213.0,421.7C212.1,420.8 211.1,419.7 210.2,418.8C209.4,417.8 208.4,416.7 207.7,415.8C207.0,414.9 206.5,414.3 206.0,413.5C205.5,412.7 205.1,412.1 204.6,411.3C204.2,410.5 203.7,409.6 203.3,408.7C202.9,407.8 202.5,406.9 202.2,405.9C201.8,405.0 201.5,404.0 201.2,403.0C200.9,402.0 200.7,400.9 200.5,399.9C200.4,398.9 200.2,398.0 200.1,397.0C200.1,396.0 200.0,395.1 200.0,394.1C200.0,393.1 200.1,392.1 200.3,391.1C200.4,390.2 200.5,389.2 200.7,388.3C200.9,387.4 201.0,386.6 201.2,385.9C201.4,385.1 201.6,384.4 201.9,383.6C202.1,382.9 202.4,382.1 202.7,381.4C202.9,380.7 203.2,380.0 203.5,379.4C203.7,378.8 203.9,378.3 204.1,377.8C204.4,377.3 204.6,376.8 205.1,376.3C205.5,375.7 206.1,375.1 206.8,374.4C207.4,373.7 208.1,373.1 208.9,372.4C209.8,371.7 210.7,370.9 211.6,370.2C212.6,369.5 213.6,368.8 214.7,368.2C215.7,367.7 216.7,367.3 217.8,366.8C218.8,366.4 219.9,366.1 221.0,365.7C222.2,365.2 223.3,364.8 224.5,364.4C225.6,363.9 226.8,363.4 227.9,362.9C229.0,362.3 230.1,361.7 231.2,361.1C232.2,360.4 233.3,359.7 234.2,358.9C235.2,358.1 236.0,357.2 236.9,356.3C237.8,355.4 238.6,354.4 239.3,353.5C240.1,352.6 240.8,351.7 241.5,350.7C242.2,349.8 242.8,348.9 243.5,347.9C244.2,347.0 244.8,346.0 245.5,345.0C246.1,344.1 246.7,343.1 247.4,342.1C248.2,341.2 249.0,340.1 249.8,339.2C250.6,338.2 251.4,337.3 252.3,336.5C253.1,335.6 253.8,334.9 254.6,334.1C255.4,333.4 256.2,332.7 257.1,332.1C257.9,331.5 258.8,331.0 259.7,330.5C260.7,330.0 261.6,329.6 262.5,329.3C263.4,329.0 264.4,328.8 265.3,328.7C266.3,328.6 267.2,328.5 268.2,328.6C269.1,328.7 270.1,328.9 271.0,329.2C271.9,329.5 272.9,329.9 273.8,330.4C274.7,330.9 275.7,331.5 276.6,332.2C277.4,332.9 278.3,333.6 279.0,334.4C279.6,335.2 280.1,336.0 280.5,336.9C280.9,337.7 281.2,338.6 281.3,339.5C281.4,340.4 281.3,341.3 281.2,342.2C281.0,343.1 280.8,344.0 280.4,344.8C280.1,345.7 279.6,346.5 279.1,347.3C278.6,348.1 278.0,348.9 277.5,349.7C277.0,350.4 276.5,351.1 276.0,351.8C275.6,352.5 275.1,353.1 274.7,353.9C274.3,354.6 273.9,355.3 273.6,356.0C273.3,356.8 273.1,357.6 272.9,358.4C272.7,359.3 272.5,360.1 272.5,361.0C272.4,362.0 272.3,362.9 272.4,364.2C272.5,365.4 272.6,367.0 272.8,368.5C273.0,370.1 273.2,371.7 273.4,373.3C273.5,374.9 273.6,376.5 273.7,378.0C273.9,379.5 274.0,381.1 274.1,382.5C274.2,383.9 274.3,385.1 274.4,386.3C274.5,387.6 274.6,388.7 274.6,389.9C274.7,391.1 274.7,392.2 274.6,393.3C274.6,394.5 274.5,395.5 274.4,396.6C274.3,397.7 274.2,398.7 274.0,399.8C273.8,400.8 273.6,401.8 273.2,402.8C272.9,403.8 272.3,404.8 271.8,405.7C271.3,406.7 270.6,407.7 270.0,408.5C269.4,409.4 268.9,410.1 268.2,410.9C267.6,411.7 267.0,412.4 266.2,413.2C265.5,414.0 264.8,414.7 264.0,415.5C263.2,416.3 262.3,417.0 261.4,417.8C260.5,418.7 259.5,419.6 258.5,420.4C257.5,421.3 256.4,422.1 255.4,422.8C254.4,423.5 253.4,424.0 252.4,424.5C251.5,425.1 250.5,425.5 249.6,426.0C248.6,426.4 247.7,426.7 246.8,427.1C246.0,427.4 245.1,427.7 244.3,428.0Z" fill="rgb(213,198,223)" style="mix-blend-mode:multiply"/>
<path d="M202.30,374.36C201.7,373.7 201.2,373.1 200.7,372.4C200.1,371.8 199.6,371.1 199.1,370.4C198.6,369.7 198.1,368.9 197.6,368.1C197.1,367.3 196.7,366.5 196.3,365.6C195.9,364.7 195.6,363.8 195.4,362.9C195.1,362.0 194.9,361.1 194.8,360.2C194.7,359.3 194.7,358.4 194.8,357.4C194.9,356.5 195.0,355.5 195.2,354.6C195.3,353.6 195.5,352.6 195.8,351.6C196.0,350.6 196.4,349.5 196.7,348.5C197.1,347.5 197.5,346.4 198.0,345.4C198.5,344.3 199.0,343.3 199.6,342.2C200.3,341.1 201.1,340.0 201.9,338.9C202.6,337.9 203.5,336.8 204.2,336.0C204.9,335.2 205.5,334.6 206.1,333.9C206.7,333.3 207.3,332.8 207.9,332.1C208.6,331.5 209.3,330.9 210.1,330.3C210.8,329.6 211.6,329.0 212.4,328.4C213.2,327.8 214.0,327.1 214.9,326.5C215.7,325.9 216.6,325.3 217.5,324.8C218.3,324.3 219.1,323.8 220.0,323.3C220.8,322.9 221.7,322.5 222.6,322.2C223.5,321.8 224.5,321.5 225.4,321.3C226.3,321.1 227.3,320.9 228.2,320.7C229.0,320.5 229.8,320.4 230.6,320.4C231.4,320.3 232.1,320.2 232.9,320.2C233.7,320.2 234.5,320.2 235.3,320.2C236.0,320.3 236.8,320.3 237.5,320.4C238.1,320.4 238.6,320.4 239.2,320.5C239.7,320.6 240.2,320.7 240.9,321.0C241.5,321.3 242.3,321.7 243.1,322.2C243.9,322.7 244.7,323.2 245.5,323.9C246.4,324.6 247.2,325.4 248.1,326.2C248.9,327.1 249.8,328.0 250.5,328.9C251.3,329.8 252.0,330.7 252.7,331.6C253.4,332.5 254.1,333.5 254.8,334.4C255.6,335.3 256.4,336.3 257.2,337.2C258.1,338.1 258.9,339.0 259.9,339.8C260.8,340.6 261.8,341.3 262.8,342.0C263.9,342.7 264.9,343.4 266.1,344.0C267.2,344.6 268.3,345.0 269.5,345.5C270.7,346.0 271.9,346.4 273.0,346.8C274.1,347.2 275.2,347.6 276.3,347.9C277.4,348.3 278.5,348.7 279.6,349.1C280.7,349.5 281.8,349.9 282.9,350.3C283.9,350.8 285.0,351.2 286.1,351.7C287.3,352.2 288.5,352.7 289.7,353.2C290.8,353.7 292.1,354.2 293.2,354.7C294.3,355.2 295.4,355.7 296.4,356.2C297.5,356.7 298.4,357.2 299.3,357.8C300.2,358.4 301.0,359.1 301.8,359.8C302.5,360.5 303.2,361.3 303.8,362.1C304.3,363.0 304.8,363.8 305.2,364.7C305.5,365.6 305.8,366.5 306.0,367.5C306.1,368.5 306.1,369.5 306.0,370.5C305.9,371.6 305.7,372.6 305.5,373.7C305.2,374.8 304.8,375.9 304.4,376.9C303.9,378.0 303.4,379.0 302.9,379.9C302.3,380.7 301.6,381.5 300.9,382.1C300.2,382.7 299.4,383.3 298.6,383.6C297.8,384.0 296.9,384.2 296.0,384.3C295.1,384.4 294.1,384.4 293.2,384.3C292.3,384.2 291.3,383.9 290.4,383.7C289.5,383.5 288.6,383.2 287.7,382.9C286.8,382.6 286.0,382.3 285.2,382.1C284.4,381.8 283.6,381.6 282.8,381.4C282.0,381.3 281.2,381.1 280.4,381.1C279.6,381.0 278.7,381.0 277.9,381.1C277.0,381.1 276.2,381.2 275.3,381.4C274.3,381.7 273.4,381.9 272.2,382.3C271.0,382.8 269.6,383.4 268.1,384.0C266.7,384.6 265.2,385.3 263.7,385.9C262.3,386.5 260.8,387.1 259.4,387.7C257.9,388.2 256.5,388.8 255.2,389.3C253.9,389.8 252.7,390.3 251.6,390.8C250.4,391.2 249.4,391.6 248.3,392.0C247.2,392.4 246.1,392.7 245.0,393.0C243.9,393.3 242.8,393.5 241.8,393.7C240.7,393.9 239.7,394.1 238.6,394.3C237.6,394.4 236.6,394.5 235.5,394.4C234.5,394.4 233.3,394.2 232.3,393.9C231.2,393.7 230.1,393.3 229.1,393.0C228.1,392.7 227.2,392.4 226.3,392.0C225.3,391.6 224.5,391.2 223.5,390.7C222.6,390.2 221.6,389.7 220.7,389.2C219.7,388.6 218.7,388.0 217.7,387.4C216.6,386.7 215.4,386.0 214.3,385.3C213.2,384.6 212.0,383.9 211.0,383.2C210.0,382.4 209.1,381.7 208.3,380.9C207.5,380.2 206.7,379.4 206.0,378.7C205.3,378.0 204.6,377.2 204.0,376.5C203.4,375.8 202.9,375.0 202.3,374.4Z" fill="rgb(192,209,226)" style="mix-blend-mode:multiply"/>
<text x="0.00" y="0.00" font-size="7.8" text-anchor="middle" transform="translate(210.00,347.70) scale(0.91,1)" fill="#111" stroke="#111" stroke-width="0.2">0</text>
<text x="0.00" y="0.00" font-size="7.8" text-anchor="middle" transform="translate(266.00,321.50) scale(0.91,1)" fill="#111" stroke="#111" stroke-width="0.2">213</text>
<text x="0.00" y="0.00" font-size="7.8" text-anchor="middle" transform="translate(310.90,357.00) scale(0.91,1)" fill="#111" stroke="#111" stroke-width="0.2">153</text>
<text x="0.00" y="0.00" font-size="7.8" text-anchor="middle" transform="translate(274.70,426.70) scale(0.91,1)" fill="#111" stroke="#111" stroke-width="0.2">59</text>
<text x="0.00" y="0.00" font-size="7.8" text-anchor="middle" transform="translate(220.20,415.80) scale(0.91,1)" fill="#111" stroke="#111" stroke-width="0.2">851</text>
<text x="0.00" y="0.00" font-size="7.8" text-anchor="middle" transform="translate(239.20,338.00) scale(0.91,1)" fill="#111" stroke="#111" stroke-width="0.2">0</text>
<text x="0.00" y="0.00" font-size="7.8" text-anchor="middle" transform="translate(265.20,336.40) scale(0.91,1)" fill="#111" stroke="#111" stroke-width="0.2">301</text>
<text x="0.00" y="0.00" font-size="7.8" text-anchor="middle" transform="translate(273.70,344.00) scale(0.91,1)" fill="#111" stroke="#111" stroke-width="0.2">145</text>
<text x="0.00" y="0.00" font-size="7.8" text-anchor="middle" transform="translate(289.50,346.30) scale(0.91,1)" fill="#111" stroke="#111" stroke-width="0.2">49</text>
<text x="0.00" y="0.00" font-size="7.8" text-anchor="middle" transform="translate(250.50,347.40) scale(0.91,1)" fill="#111" stroke="#111" stroke-width="0.2">1</text>
<text x="0.00" y="0.00" font-size="7.8" text-anchor="middle" transform="translate(234.50,354.90) scale(0.91,1)" fill="#111" stroke="#111" stroke-width="0.2">0</text>
<text x="0.00" y="0.00" font-size="7.8" text-anchor="middle" transform="translate(263.50,355.30) scale(0.91,1)" fill="#111" stroke="#111" stroke-width="0.2">1</text>
<text x="0.00" y="0.00" font-size="7.8" text-anchor="middle" transform="translate(281.50,360.20) scale(0.91,1)" fill="#111" stroke="#111" stroke-width="0.2">0</text>
<text x="0.00" y="0.00" font-size="7.8" text-anchor="middle" transform="translate(223.20,360.20) scale(0.91,1)" fill="#111" stroke="#111" stroke-width="0.2">0</text>
<text x="0.00" y="0.00" font-size="7.8" text-anchor="middle" transform="translate(240.30,364.90) scale(0.91,1)" fill="#111" stroke="#111" stroke-width="0.2">1</text>
<text x="0.00" y="0.00" font-size="7.8" text-anchor="middle" transform="translate(296.90,368.00) scale(0.91,1)" fill="#111" stroke="#111" stroke-width="0.2">0</text>
<text x="0.00" y="0.00" font-size="7.8" text-anchor="middle" transform="translate(278.70,371.90) scale(0.91,1)" fill="#111" stroke="#111" stroke-width="0.2">0</text>
<text x="0.00" y="0.00" font-size="7.8" text-anchor="middle" transform="translate(228.10,374.40) scale(0.91,1)" fill="#111" stroke="#111" stroke-width="0.2">0</text>
<text x="0.00" y="0.00" font-size="7.8" text-anchor="middle" transform="translate(258.10,376.70) scale(0.91,1)" fill="#111" stroke="#111" stroke-width="0.2">4</text>
<text x="0.00" y="0.00" font-size="7.8" text-anchor="middle" transform="translate(215.10,380.90) scale(0.91,1)" fill="#111" stroke="#111" stroke-width="0.2">0</text>
<text x="0.00" y="0.00" font-size="7.8" text-anchor="middle" transform="translate(293.10,380.10) scale(0.91,1)" fill="#111" stroke="#111" stroke-width="0.2">0</text>
<text x="0.00" y="0.00" font-size="7.8" text-anchor="middle" transform="translate(242.40,387.70) scale(0.91,1)" fill="#111" stroke="#111" stroke-width="0.2">0</text>
<text x="0.00" y="0.00" font-size="7.8" text-anchor="middle" transform="translate(226.40,391.10) scale(0.91,1)" fill="#111" stroke="#111" stroke-width="0.2">0</text>
<text x="0.00" y="0.00" font-size="7.8" text-anchor="middle" transform="translate(266.70,392.30) scale(0.91,1)" fill="#111" stroke="#111" stroke-width="0.2">262</text>
<text x="0.00" y="0.00" font-size="7.8" text-anchor="middle" transform="translate(282.40,396.20) scale(0.91,1)" fill="#111" stroke="#111" stroke-width="0.2">37</text>
<text x="0.00" y="0.00" font-size="7.8" text-anchor="middle" transform="translate(297.00,398.40) scale(0.91,1)" fill="#111" stroke="#111" stroke-width="0.2">39</text>
<text x="0.00" y="0.00" font-size="7.8" text-anchor="middle" transform="translate(230.20,403.30) scale(0.91,1)" fill="#111" stroke="#111" stroke-width="0.2">135</text>
<text x="0.00" y="0.00" font-size="7.8" text-anchor="middle" transform="translate(249.20,402.20) scale(0.91,1)" fill="#111" stroke="#111" stroke-width="0.2">89</text>
<text x="0.00" y="0.00" font-size="7.8" text-anchor="middle" transform="translate(266.10,406.20) scale(0.91,1)" fill="#111" stroke="#111" stroke-width="0.2">60</text>
<text x="0.00" y="0.00" font-size="7.8" text-anchor="middle" transform="translate(277.30,412.40) scale(0.91,1)" fill="#111" stroke="#111" stroke-width="0.2">39</text>
<text x="0.00" y="0.00" font-size="7.8" text-anchor="middle" transform="translate(251.50,417.00) scale(0.91,1)" fill="#111" stroke="#111" stroke-width="0.2">68</text>
<text x="255.80" y="292.70" font-size="8.2" text-anchor="middle" fill="#111" stroke="#111" stroke-width="0.2">DB</text>
<text x="0.00" y="0.00" font-size="7.8" text-anchor="middle" transform="translate(204.50,331.70) rotate(-42)" fill="#111" stroke="#111" stroke-width="0.2">DMSO</text>
<text x="0.00" y="0.00" font-size="7.3" text-anchor="middle" transform="translate(284.40,309.50) rotate(28)" fill="#111" stroke="#111" stroke-width="0.1">IFN-<tspan font-size="0.85em" dy="0.6">γ</tspan><tspan dy="-0.6"></tspan></text>
<text x="0.00" y="0.00" font-size="7.5" text-anchor="middle" transform="translate(329.40,374.30) rotate(90)" fill="#111" stroke="#111" stroke-width="0.2">IFN-<tspan font-size="0.85em" dy="0.6">γ</tspan><tspan dy="-0.6"></tspan> + TAZ</text>
<text x="0.00" y="0.00" font-size="7.6" text-anchor="middle" transform="translate(303.90,433.90) rotate(-26.4)" fill="#111" stroke="#111" stroke-width="0.2">IFN-<tspan font-size="0.85em" dy="0.6">γ</tspan><tspan dy="-0.6"></tspan> + DAC</text>
<text x="0.00" y="0.00" font-size="7.6" text-anchor="middle" transform="translate(212.20,431.60) rotate(49.4)" fill="#111" stroke="#111" stroke-width="0.2">IFN-<tspan font-size="0.85em" dy="0.6">γ</tspan><tspan dy="-0.6"></tspan> + DAC+TAZ</text>
<path d="M389.28,319.91C389.7,319.2 390.1,318.4 390.6,317.7C391.0,317.0 391.4,316.3 391.9,315.6C392.4,314.9 392.9,314.1 393.5,313.3C394.1,312.6 394.7,311.9 395.3,311.2C395.9,310.5 396.6,309.9 397.3,309.3C398.1,308.8 398.8,308.2 399.6,307.8C400.4,307.4 401.2,307.1 402.1,306.8C403.0,306.5 403.9,306.3 404.8,306.1C405.7,305.9 406.7,305.8 407.7,305.6C408.8,305.5 409.8,305.5 410.9,305.4C412.0,305.4 413.1,305.4 414.3,305.4C415.4,305.4 416.6,305.5 417.8,305.7C419.1,305.8 420.5,306.1 421.7,306.3C423.0,306.6 424.4,306.9 425.4,307.1C426.5,307.4 427.3,307.7 428.1,308.0C429.0,308.3 429.7,308.6 430.5,308.9C431.3,309.3 432.2,309.7 433.1,310.1C434.0,310.5 434.8,311.0 435.7,311.5C436.6,312.0 437.5,312.6 438.4,313.1C439.2,313.7 440.1,314.3 440.9,314.9C441.7,315.5 442.4,316.1 443.2,316.8C443.9,317.4 444.6,318.1 445.2,318.8C445.8,319.5 446.5,320.4 447.0,321.2C447.6,322.0 448.1,322.8 448.6,323.6C449.1,324.4 449.5,325.1 449.8,325.8C450.2,326.5 450.5,327.2 450.8,327.9C451.1,328.6 451.4,329.4 451.7,330.1C451.9,330.8 452.1,331.6 452.3,332.2C452.5,332.8 452.7,333.3 452.9,333.8C453.0,334.4 453.1,334.9 453.1,335.6C453.1,336.3 453.0,337.2 452.9,338.1C452.8,339.1 452.6,340.0 452.3,341.1C452.0,342.1 451.6,343.2 451.2,344.3C450.7,345.4 450.2,346.5 449.6,347.6C449.1,348.6 448.4,349.6 447.8,350.6C447.2,351.5 446.5,352.5 445.9,353.5C445.3,354.6 444.7,355.6 444.1,356.8C443.5,357.9 443.0,359.0 442.6,360.2C442.2,361.3 441.8,362.6 441.6,363.8C441.3,365.0 441.1,366.3 441.0,367.5C440.8,368.8 440.8,370.1 440.9,371.3C440.9,372.6 440.9,373.8 441.0,375.1C441.0,376.3 441.1,377.4 441.2,378.6C441.2,379.7 441.3,380.9 441.3,382.0C441.4,383.2 441.4,384.3 441.4,385.5C441.4,386.7 441.4,387.8 441.4,389.0C441.3,390.3 441.3,391.6 441.2,392.8C441.1,394.1 441.0,395.4 440.9,396.6C440.8,397.7 440.7,398.8 440.5,399.9C440.4,401.0 440.2,402.0 439.9,403.1C439.7,404.1 439.3,405.1 438.9,406.1C438.5,407.0 438.1,407.9 437.6,408.8C437.0,409.6 436.5,410.4 435.8,411.1C435.1,411.8 434.4,412.4 433.6,413.0C432.8,413.5 431.9,413.9 430.9,414.2C430.0,414.6 429.0,414.8 427.9,415.0C426.8,415.1 425.6,415.2 424.5,415.2C423.4,415.2 422.2,415.2 421.2,415.0C420.2,414.8 419.2,414.4 418.4,414.0C417.5,413.6 416.7,413.1 416.1,412.5C415.4,411.9 415.0,411.1 414.5,410.3C414.1,409.5 413.8,408.6 413.6,407.7C413.4,406.8 413.3,405.9 413.2,404.9C413.1,404.0 413.1,403.0 413.1,402.0C413.0,401.1 413.0,400.3 413.0,399.4C412.9,398.6 412.9,397.7 412.8,396.9C412.6,396.1 412.5,395.3 412.2,394.5C412.0,393.7 411.7,392.9 411.3,392.1C411.0,391.4 410.5,390.6 410.0,389.8C409.4,389.0 408.8,388.2 408.0,387.3C407.1,386.4 405.9,385.3 404.8,384.2C403.7,383.2 402.5,382.0 401.3,380.9C400.2,379.8 399.2,378.6 398.1,377.5C397.1,376.4 396.1,375.2 395.1,374.2C394.2,373.2 393.3,372.3 392.5,371.4C391.6,370.5 390.8,369.7 390.0,368.8C389.3,367.9 388.5,367.0 387.9,366.1C387.2,365.2 386.5,364.3 385.9,363.4C385.3,362.5 384.7,361.7 384.2,360.7C383.7,359.8 383.2,358.9 382.8,357.9C382.5,356.9 382.3,355.8 382.1,354.7C381.9,353.6 381.8,352.5 381.7,351.4C381.6,350.4 381.6,349.4 381.6,348.4C381.6,347.4 381.6,346.5 381.7,345.4C381.8,344.4 381.9,343.3 382.0,342.2C382.2,341.1 382.3,340.0 382.5,338.8C382.7,337.5 382.9,336.1 383.1,334.9C383.3,333.6 383.6,332.2 383.9,331.0C384.2,329.8 384.6,328.8 385.0,327.7C385.4,326.7 385.9,325.7 386.4,324.8C386.8,323.9 387.3,323.1 387.8,322.2C388.3,321.4 388.8,320.7 389.3,319.9Z" fill="rgb(236,190,202)" style="mix-blend-mode:multiply"/>
<path d="M453.74,334.11C454.6,334.3 455.4,334.4 456.2,334.6C457.1,334.7 457.8,334.9 458.7,335.1C459.5,335.4 460.4,335.6 461.3,335.9C462.2,336.2 463.0,336.6 463.9,337.0C464.7,337.4 465.5,337.9 466.2,338.4C467.0,338.9 467.7,339.5 468.3,340.1C469.0,340.8 469.5,341.5 470.0,342.2C470.5,343.0 471.0,343.8 471.4,344.6C471.9,345.5 472.3,346.4 472.7,347.3C473.1,348.2 473.5,349.2 473.8,350.3C474.2,351.3 474.5,352.3 474.8,353.5C475.1,354.6 475.4,355.7 475.6,356.9C475.9,358.2 476.0,359.6 476.2,360.9C476.3,362.2 476.4,363.6 476.5,364.7C476.5,365.8 476.6,366.6 476.6,367.5C476.5,368.4 476.5,369.2 476.4,370.1C476.4,371.1 476.3,372.0 476.2,373.0C476.1,374.0 475.9,375.0 475.7,376.0C475.6,377.0 475.3,378.0 475.1,379.0C474.8,380.0 474.5,381.1 474.2,382.0C473.8,383.0 473.5,383.8 473.0,384.7C472.6,385.6 472.2,386.4 471.6,387.2C471.0,388.0 470.4,388.8 469.7,389.6C469.0,390.3 468.3,391.0 467.6,391.6C467.0,392.3 466.3,392.8 465.7,393.3C465.1,393.8 464.5,394.3 463.8,394.8C463.2,395.2 462.5,395.7 461.9,396.1C461.2,396.5 460.5,396.9 460.0,397.3C459.4,397.6 459.0,397.9 458.5,398.2C458.0,398.5 457.6,398.7 456.9,398.9C456.2,399.1 455.3,399.3 454.4,399.4C453.5,399.5 452.5,399.6 451.5,399.6C450.5,399.7 449.3,399.6 448.2,399.6C447.1,399.5 445.9,399.4 444.7,399.2C443.6,399.0 442.6,398.7 441.4,398.5C440.3,398.3 439.2,398.0 438.1,397.7C436.9,397.5 435.7,397.3 434.5,397.1C433.3,396.9 432.0,396.8 430.8,396.7C429.5,396.7 428.3,396.7 427.0,396.8C425.8,396.9 424.5,397.1 423.3,397.3C422.1,397.6 420.9,398.0 419.7,398.3C418.5,398.7 417.3,399.1 416.2,399.5C415.0,399.9 413.9,400.3 412.8,400.7C411.7,401.1 410.6,401.5 409.5,401.9C408.5,402.2 407.4,402.6 406.2,402.9C405.1,403.2 404.0,403.5 402.9,403.8C401.7,404.1 400.4,404.3 399.2,404.6C398.0,404.8 396.7,405.0 395.6,405.2C394.4,405.4 393.3,405.6 392.2,405.7C391.1,405.9 390.1,406.0 389.0,406.0C388.0,406.1 386.9,406.1 385.9,406.0C384.8,405.9 383.8,405.8 382.8,405.5C381.9,405.3 380.9,405.1 380.0,404.7C379.1,404.3 378.3,403.9 377.5,403.3C376.7,402.8 376.0,402.1 375.4,401.3C374.8,400.6 374.2,399.7 373.7,398.8C373.2,397.9 372.7,396.8 372.4,395.7C372.1,394.7 371.8,393.6 371.7,392.6C371.6,391.5 371.7,390.5 371.9,389.6C372.1,388.7 372.4,387.8 372.8,387.0C373.2,386.2 373.8,385.5 374.5,384.8C375.1,384.2 375.9,383.6 376.7,383.1C377.5,382.6 378.4,382.1 379.3,381.7C380.2,381.3 381.2,381.0 382.0,380.7C382.9,380.3 383.7,380.1 384.5,379.7C385.2,379.4 386.0,379.1 386.7,378.7C387.5,378.4 388.2,378.0 388.9,377.5C389.5,377.0 390.2,376.5 390.8,375.9C391.5,375.3 392.0,374.7 392.6,374.0C393.2,373.2 393.8,372.4 394.4,371.4C395.1,370.3 395.8,368.9 396.5,367.5C397.3,366.2 398.0,364.6 398.8,363.2C399.5,361.8 400.3,360.5 401.1,359.1C401.8,357.8 402.6,356.5 403.3,355.3C404.0,354.0 404.6,352.9 405.2,351.9C405.8,350.8 406.4,349.8 407.0,348.8C407.6,347.8 408.3,346.8 409.0,345.9C409.6,345.0 410.3,344.1 411.0,343.3C411.7,342.5 412.4,341.7 413.1,340.9C413.8,340.2 414.5,339.5 415.4,338.9C416.3,338.3 417.3,337.7 418.3,337.3C419.3,336.8 420.4,336.4 421.3,336.1C422.3,335.7 423.2,335.4 424.2,335.2C425.1,334.9 426.1,334.7 427.1,334.5C428.1,334.4 429.2,334.2 430.3,334.0C431.4,333.9 432.6,333.7 433.8,333.6C435.0,333.4 436.4,333.2 437.7,333.1C439.0,332.9 440.4,332.8 441.6,332.7C442.8,332.7 443.9,332.7 445.0,332.8C446.1,332.8 447.2,332.9 448.2,333.1C449.2,333.2 450.1,333.4 451.1,333.5C452.0,333.7 452.9,333.9 453.7,334.1Z" fill="rgb(202,236,208)" style="mix-blend-mode:multiply"/>
<path d="M460.60,402.05C460.6,402.9 460.7,403.7 460.7,404.6C460.7,405.4 460.7,406.2 460.7,407.1C460.7,408.0 460.6,409.0 460.5,409.9C460.4,410.8 460.3,411.8 460.1,412.7C459.9,413.6 459.6,414.5 459.3,415.4C459.0,416.3 458.7,417.1 458.2,417.9C457.8,418.7 457.3,419.5 456.7,420.2C456.1,420.9 455.5,421.6 454.8,422.3C454.1,422.9 453.4,423.6 452.6,424.3C451.8,424.9 451.0,425.6 450.1,426.2C449.3,426.8 448.4,427.5 447.4,428.0C446.4,428.6 445.4,429.2 444.3,429.7C443.2,430.3 441.9,430.8 440.7,431.3C439.5,431.8 438.2,432.3 437.2,432.7C436.1,433.0 435.3,433.3 434.5,433.5C433.6,433.8 432.8,433.9 431.9,434.1C431.0,434.3 430.1,434.5 429.1,434.7C428.1,434.8 427.1,435.0 426.1,435.1C425.1,435.2 424.0,435.3 423.0,435.3C421.9,435.4 420.9,435.4 419.9,435.3C418.8,435.3 417.9,435.2 416.9,435.1C415.9,435.0 415.0,434.8 414.0,434.6C413.1,434.3 412.1,434.0 411.1,433.7C410.2,433.3 409.3,432.9 408.4,432.5C407.6,432.2 406.9,431.8 406.2,431.4C405.5,431.1 404.9,430.7 404.2,430.2C403.6,429.8 402.9,429.3 402.3,428.9C401.7,428.4 401.1,427.9 400.6,427.5C400.1,427.1 399.7,426.8 399.3,426.4C398.8,426.0 398.5,425.6 398.1,425.0C397.7,424.4 397.3,423.6 396.9,422.7C396.6,421.9 396.2,421.0 395.9,419.9C395.5,418.9 395.3,417.7 395.0,416.5C394.8,415.4 394.5,414.1 394.4,412.9C394.3,411.7 394.2,410.6 394.1,409.4C394.1,408.3 394.0,407.1 394.0,405.9C393.9,404.7 393.8,403.5 393.6,402.2C393.5,401.0 393.3,399.7 393.0,398.5C392.7,397.3 392.4,396.1 391.9,395.0C391.5,393.8 391.0,392.7 390.4,391.6C389.8,390.4 389.1,389.4 388.4,388.4C387.7,387.3 386.9,386.3 386.2,385.3C385.5,384.4 384.8,383.4 384.1,382.5C383.4,381.6 382.7,380.6 382.0,379.7C381.3,378.8 380.6,377.9 379.9,376.9C379.2,376.0 378.5,375.0 377.7,374.0C377.0,373.0 376.2,371.9 375.5,370.8C374.8,369.8 374.2,368.6 373.6,367.6C373.0,366.6 372.4,365.6 372.0,364.6C371.5,363.6 371.1,362.6 370.8,361.6C370.5,360.6 370.3,359.5 370.1,358.5C369.9,357.5 369.9,356.4 369.9,355.4C369.9,354.4 370.0,353.4 370.2,352.5C370.4,351.5 370.6,350.6 371.0,349.7C371.5,348.8 372.0,348.0 372.6,347.2C373.2,346.4 373.9,345.6 374.7,344.9C375.5,344.2 376.4,343.5 377.4,342.9C378.3,342.3 379.3,341.8 380.2,341.4C381.2,341.1 382.1,340.9 383.1,340.7C384.0,340.6 385.0,340.6 385.8,340.8C386.7,341.0 387.5,341.3 388.3,341.7C389.1,342.1 389.9,342.7 390.6,343.2C391.3,343.8 391.9,344.5 392.6,345.2C393.2,345.9 393.8,346.6 394.3,347.3C394.9,348.0 395.4,348.6 395.9,349.3C396.4,349.9 396.9,350.6 397.5,351.1C398.1,351.7 398.7,352.3 399.3,352.8C400.0,353.3 400.6,353.8 401.4,354.2C402.1,354.6 402.9,355.0 403.8,355.3C404.7,355.7 405.6,356.0 406.8,356.3C408.0,356.6 409.6,356.9 411.1,357.2C412.6,357.5 414.3,357.7 415.9,358.0C417.4,358.3 419.0,358.7 420.5,359.0C422.0,359.2 423.6,359.5 425.0,359.8C426.4,360.0 427.6,360.2 428.8,360.4C430.1,360.6 431.2,360.8 432.4,361.1C433.5,361.4 434.6,361.7 435.7,362.0C436.7,362.4 437.7,362.7 438.7,363.1C439.7,363.5 440.7,363.9 441.6,364.4C442.5,364.9 443.4,365.4 444.3,366.0C445.1,366.7 445.9,367.6 446.7,368.4C447.4,369.2 448.2,370.2 448.8,371.1C449.5,371.9 450.1,372.7 450.6,373.6C451.2,374.4 451.8,375.3 452.3,376.2C452.9,377.1 453.4,378.0 454.0,379.1C454.5,380.1 455.0,381.1 455.6,382.2C456.1,383.4 456.7,384.7 457.3,385.9C457.8,387.2 458.4,388.5 458.8,389.7C459.2,390.9 459.4,392.0 459.7,393.1C459.9,394.2 460.1,395.3 460.3,396.3C460.4,397.4 460.5,398.3 460.5,399.3C460.6,400.2 460.6,401.2 460.6,402.0Z" fill="rgb(254,222,185)" style="mix-blend-mode:multiply"/>
<path d="M397.27,426.83C396.4,427.1 395.7,427.5 394.9,427.8C394.1,428.1 393.4,428.4 392.6,428.6C391.7,428.9 390.8,429.2 389.9,429.4C389.0,429.6 388.1,429.8 387.2,429.9C386.2,430.0 385.3,430.1 384.4,430.1C383.5,430.1 382.5,430.0 381.7,429.9C380.8,429.7 379.9,429.4 379.1,429.1C378.2,428.8 377.4,428.4 376.5,428.0C375.7,427.6 374.8,427.1 374.0,426.6C373.1,426.1 372.2,425.5 371.4,424.9C370.5,424.2 369.6,423.6 368.7,422.9C367.8,422.1 366.9,421.4 366.0,420.5C365.1,419.6 364.1,418.5 363.2,417.6C362.4,416.6 361.4,415.5 360.7,414.6C360.0,413.7 359.5,413.1 359.0,412.3C358.5,411.5 358.1,410.9 357.6,410.1C357.2,409.3 356.7,408.4 356.3,407.5C355.9,406.6 355.5,405.7 355.2,404.7C354.8,403.8 354.5,402.8 354.2,401.8C353.9,400.8 353.7,399.7 353.5,398.7C353.4,397.7 353.2,396.8 353.1,395.8C353.1,394.8 353.0,393.9 353.0,392.9C353.0,391.9 353.1,390.9 353.3,389.9C353.4,389.0 353.5,388.0 353.7,387.1C353.9,386.2 354.0,385.4 354.2,384.7C354.4,383.9 354.6,383.2 354.9,382.4C355.1,381.7 355.4,380.9 355.7,380.2C355.9,379.5 356.2,378.8 356.5,378.2C356.7,377.6 356.9,377.1 357.1,376.6C357.4,376.1 357.6,375.6 358.1,375.1C358.5,374.5 359.1,373.9 359.8,373.2C360.4,372.5 361.1,371.9 361.9,371.2C362.8,370.5 363.7,369.7 364.6,369.0C365.6,368.3 366.6,367.6 367.7,367.0C368.7,366.5 369.7,366.1 370.8,365.6C371.8,365.2 372.9,364.9 374.0,364.5C375.2,364.0 376.3,363.6 377.5,363.2C378.6,362.7 379.8,362.2 380.9,361.7C382.0,361.1 383.1,360.5 384.2,359.9C385.2,359.2 386.3,358.5 387.2,357.7C388.2,356.9 389.0,356.0 389.9,355.1C390.8,354.2 391.6,353.2 392.3,352.3C393.1,351.4 393.8,350.5 394.5,349.5C395.2,348.6 395.8,347.7 396.5,346.7C397.2,345.8 397.8,344.8 398.5,343.8C399.1,342.9 399.7,341.9 400.4,340.9C401.2,340.0 402.0,338.9 402.8,338.0C403.6,337.0 404.4,336.1 405.3,335.3C406.1,334.4 406.8,333.7 407.6,332.9C408.4,332.2 409.2,331.5 410.1,330.9C410.9,330.3 411.8,329.8 412.7,329.3C413.7,328.8 414.6,328.4 415.5,328.1C416.4,327.8 417.4,327.6 418.3,327.5C419.3,327.4 420.2,327.3 421.2,327.4C422.1,327.5 423.1,327.7 424.0,328.0C424.9,328.3 425.9,328.7 426.8,329.2C427.7,329.7 428.7,330.3 429.6,331.0C430.4,331.7 431.3,332.4 432.0,333.2C432.6,334.0 433.1,334.8 433.5,335.7C433.9,336.5 434.2,337.4 434.3,338.3C434.4,339.2 434.3,340.1 434.2,341.0C434.0,341.9 433.8,342.8 433.4,343.6C433.1,344.5 432.6,345.3 432.1,346.1C431.6,346.9 431.0,347.7 430.5,348.5C430.0,349.2 429.5,349.9 429.0,350.6C428.6,351.3 428.1,351.9 427.7,352.7C427.3,353.4 426.9,354.1 426.6,354.8C426.3,355.6 426.1,356.4 425.9,357.2C425.7,358.1 425.5,358.9 425.5,359.8C425.4,360.8 425.3,361.7 425.4,363.0C425.5,364.2 425.6,365.8 425.8,367.3C426.0,368.9 426.2,370.5 426.4,372.1C426.5,373.7 426.6,375.3 426.7,376.8C426.9,378.3 427.0,379.9 427.1,381.3C427.2,382.7 427.3,383.9 427.4,385.1C427.5,386.4 427.6,387.5 427.6,388.7C427.7,389.9 427.7,391.0 427.6,392.1C427.6,393.3 427.5,394.3 427.4,395.4C427.3,396.5 427.2,397.5 427.0,398.6C426.8,399.6 426.6,400.6 426.2,401.6C425.9,402.6 425.3,403.6 424.8,404.5C424.3,405.5 423.6,406.5 423.0,407.3C422.4,408.2 421.9,408.9 421.2,409.7C420.6,410.5 420.0,411.2 419.2,412.0C418.5,412.8 417.8,413.5 417.0,414.3C416.2,415.1 415.3,415.8 414.4,416.6C413.5,417.5 412.5,418.4 411.5,419.2C410.5,420.1 409.4,420.9 408.4,421.6C407.4,422.3 406.4,422.8 405.4,423.3C404.5,423.9 403.5,424.3 402.6,424.8C401.6,425.2 400.7,425.5 399.8,425.9C399.0,426.2 398.1,426.5 397.3,426.8Z" fill="rgb(213,198,223)" style="mix-blend-mode:multiply"/>
<path d="M355.30,373.16C354.7,372.5 354.2,371.9 353.7,371.2C353.1,370.6 352.6,369.9 352.1,369.2C351.6,368.5 351.1,367.7 350.6,366.9C350.1,366.1 349.7,365.3 349.3,364.4C348.9,363.5 348.6,362.6 348.4,361.7C348.1,360.8 347.9,359.9 347.8,359.0C347.7,358.1 347.7,357.2 347.8,356.2C347.9,355.3 348.0,354.3 348.2,353.4C348.3,352.4 348.5,351.4 348.8,350.4C349.0,349.4 349.4,348.3 349.7,347.3C350.1,346.3 350.5,345.2 351.0,344.2C351.5,343.1 352.0,342.1 352.6,341.0C353.3,339.9 354.1,338.8 354.9,337.7C355.6,336.7 356.5,335.6 357.2,334.8C357.9,334.0 358.5,333.4 359.1,332.7C359.7,332.1 360.3,331.6 360.9,330.9C361.6,330.3 362.3,329.7 363.1,329.1C363.8,328.4 364.6,327.8 365.4,327.2C366.2,326.6 367.0,325.9 367.9,325.3C368.7,324.7 369.6,324.1 370.5,323.6C371.3,323.1 372.1,322.6 373.0,322.1C373.8,321.7 374.7,321.3 375.6,321.0C376.5,320.6 377.5,320.3 378.4,320.1C379.3,319.9 380.3,319.7 381.2,319.5C382.0,319.3 382.8,319.2 383.6,319.2C384.4,319.1 385.1,319.0 385.9,319.0C386.7,319.0 387.5,319.0 388.3,319.0C389.0,319.1 389.8,319.1 390.5,319.2C391.1,319.2 391.6,319.2 392.2,319.3C392.7,319.4 393.2,319.5 393.9,319.8C394.5,320.1 395.3,320.5 396.1,321.0C396.9,321.5 397.7,322.0 398.5,322.7C399.4,323.4 400.2,324.2 401.1,325.0C401.9,325.9 402.8,326.8 403.5,327.7C404.3,328.6 405.0,329.5 405.7,330.4C406.4,331.3 407.1,332.3 407.8,333.2C408.6,334.1 409.4,335.1 410.2,336.0C411.1,336.9 411.9,337.8 412.9,338.6C413.8,339.4 414.8,340.1 415.8,340.8C416.9,341.5 417.9,342.2 419.1,342.8C420.2,343.4 421.3,343.8 422.5,344.3C423.7,344.8 424.9,345.2 426.0,345.6C427.1,346.0 428.2,346.4 429.3,346.7C430.4,347.1 431.5,347.5 432.6,347.9C433.7,348.3 434.8,348.7 435.9,349.1C436.9,349.6 438.0,350.0 439.1,350.5C440.3,351.0 441.5,351.5 442.7,352.0C443.8,352.5 445.1,353.0 446.2,353.5C447.3,354.0 448.4,354.5 449.4,355.0C450.5,355.5 451.4,356.0 452.3,356.6C453.2,357.2 454.0,357.9 454.8,358.6C455.5,359.3 456.2,360.1 456.8,360.9C457.3,361.8 457.8,362.6 458.2,363.5C458.5,364.4 458.8,365.3 459.0,366.3C459.1,367.3 459.1,368.3 459.0,369.3C458.9,370.4 458.7,371.4 458.5,372.5C458.2,373.6 457.8,374.7 457.4,375.7C456.9,376.8 456.4,377.8 455.9,378.7C455.3,379.5 454.6,380.3 453.9,380.9C453.2,381.5 452.4,382.1 451.6,382.4C450.8,382.8 449.9,383.0 449.0,383.1C448.1,383.2 447.1,383.2 446.2,383.1C445.3,383.0 444.3,382.7 443.4,382.5C442.5,382.3 441.6,382.0 440.7,381.7C439.8,381.4 439.0,381.1 438.2,380.9C437.4,380.6 436.6,380.4 435.8,380.2C435.0,380.1 434.2,379.9 433.4,379.9C432.6,379.8 431.7,379.8 430.9,379.9C430.0,379.9 429.2,380.0 428.3,380.2C427.3,380.5 426.4,380.7 425.2,381.1C424.0,381.6 422.6,382.2 421.1,382.8C419.7,383.4 418.2,384.1 416.7,384.7C415.3,385.3 413.8,385.9 412.4,386.5C410.9,387.0 409.5,387.6 408.2,388.1C406.9,388.6 405.7,389.1 404.6,389.6C403.4,390.0 402.4,390.4 401.3,390.8C400.2,391.2 399.1,391.5 398.0,391.8C396.9,392.1 395.8,392.3 394.8,392.5C393.7,392.7 392.7,392.9 391.6,393.1C390.6,393.2 389.6,393.3 388.5,393.2C387.5,393.2 386.3,393.0 385.3,392.7C384.2,392.5 383.1,392.1 382.1,391.8C381.1,391.5 380.2,391.2 379.3,390.8C378.3,390.4 377.5,390.0 376.5,389.5C375.6,389.0 374.6,388.5 373.7,388.0C372.7,387.4 371.7,386.8 370.7,386.2C369.6,385.5 368.4,384.8 367.3,384.1C366.2,383.4 365.0,382.7 364.0,382.0C363.0,381.2 362.1,380.5 361.3,379.7C360.5,379.0 359.7,378.2 359.0,377.5C358.3,376.8 357.6,376.0 357.0,375.3C356.4,374.6 355.9,373.8 355.3,373.2Z" fill="rgb(192,209,226)" style="mix-blend-mode:multiply"/>
<text x="0.00" y="0.00" font-size="7.8" text-anchor="middle" transform="translate(363.00,346.50) scale(0.91,1)" fill="#111" stroke="#111" stroke-width="0.2">1</text>
<text x="0.00" y="0.00" font-size="7.8" text-anchor="middle" transform="translate(419.00,320.30) scale(0.91,1)" fill="#111" stroke="#111" stroke-width="0.2">135</text>
<text x="0.00" y="0.00" font-size="7.8" text-anchor="middle" transform="translate(463.90,355.80) scale(0.91,1)" fill="#111" stroke="#111" stroke-width="0.2">61</text>
<text x="0.00" y="0.00" font-size="7.8" text-anchor="middle" transform="translate(427.70,425.50) scale(0.91,1)" fill="#111" stroke="#111" stroke-width="0.2">93</text>
<text x="0.00" y="0.00" font-size="7.8" text-anchor="middle" transform="translate(373.20,414.60) scale(0.91,1)" fill="#111" stroke="#111" stroke-width="0.2">28</text>
<text x="0.00" y="0.00" font-size="7.8" text-anchor="middle" transform="translate(392.20,336.80) scale(0.91,1)" fill="#111" stroke="#111" stroke-width="0.2">3</text>
<text x="0.00" y="0.00" font-size="7.8" text-anchor="middle" transform="translate(418.20,335.20) scale(0.91,1)" fill="#111" stroke="#111" stroke-width="0.2">21</text>
<text x="0.00" y="0.00" font-size="7.8" text-anchor="middle" transform="translate(426.70,342.80) scale(0.91,1)" fill="#111" stroke="#111" stroke-width="0.2">19</text>
<text x="0.00" y="0.00" font-size="7.8" text-anchor="middle" transform="translate(442.50,345.10) scale(0.91,1)" fill="#111" stroke="#111" stroke-width="0.2">16</text>
<text x="0.00" y="0.00" font-size="7.8" text-anchor="middle" transform="translate(403.50,346.20) scale(0.91,1)" fill="#111" stroke="#111" stroke-width="0.2">0</text>
<text x="0.00" y="0.00" font-size="7.8" text-anchor="middle" transform="translate(387.50,353.70) scale(0.91,1)" fill="#111" stroke="#111" stroke-width="0.2">2</text>
<text x="0.00" y="0.00" font-size="7.8" text-anchor="middle" transform="translate(416.50,354.10) scale(0.91,1)" fill="#111" stroke="#111" stroke-width="0.2">0</text>
<text x="0.00" y="0.00" font-size="7.8" text-anchor="middle" transform="translate(434.50,359.00) scale(0.91,1)" fill="#111" stroke="#111" stroke-width="0.2">1</text>
<text x="0.00" y="0.00" font-size="7.8" text-anchor="middle" transform="translate(376.20,359.00) scale(0.91,1)" fill="#111" stroke="#111" stroke-width="0.2">1</text>
<text x="0.00" y="0.00" font-size="7.8" text-anchor="middle" transform="translate(393.30,363.70) scale(0.91,1)" fill="#111" stroke="#111" stroke-width="0.2">3</text>
<text x="0.00" y="0.00" font-size="7.8" text-anchor="middle" transform="translate(449.90,366.80) scale(0.91,1)" fill="#111" stroke="#111" stroke-width="0.2">0</text>
<text x="0.00" y="0.00" font-size="7.8" text-anchor="middle" transform="translate(431.70,370.70) scale(0.91,1)" fill="#111" stroke="#111" stroke-width="0.2">1</text>
<text x="0.00" y="0.00" font-size="7.8" text-anchor="middle" transform="translate(381.10,373.20) scale(0.91,1)" fill="#111" stroke="#111" stroke-width="0.2">0</text>
<text x="0.00" y="0.00" font-size="7.8" text-anchor="middle" transform="translate(411.10,375.50) scale(0.91,1)" fill="#111" stroke="#111" stroke-width="0.2">6</text>
<text x="0.00" y="0.00" font-size="7.8" text-anchor="middle" transform="translate(368.10,379.70) scale(0.91,1)" fill="#111" stroke="#111" stroke-width="0.2">0</text>
<text x="0.00" y="0.00" font-size="7.8" text-anchor="middle" transform="translate(446.10,378.90) scale(0.91,1)" fill="#111" stroke="#111" stroke-width="0.2">1</text>
<text x="0.00" y="0.00" font-size="7.8" text-anchor="middle" transform="translate(395.40,386.50) scale(0.91,1)" fill="#111" stroke="#111" stroke-width="0.2">2</text>
<text x="0.00" y="0.00" font-size="7.8" text-anchor="middle" transform="translate(379.40,389.90) scale(0.91,1)" fill="#111" stroke="#111" stroke-width="0.2">0</text>
<text x="0.00" y="0.00" font-size="7.8" text-anchor="middle" transform="translate(419.70,391.10) scale(0.91,1)" fill="#111" stroke="#111" stroke-width="0.2">70</text>
<text x="0.00" y="0.00" font-size="7.8" text-anchor="middle" transform="translate(435.40,395.00) scale(0.91,1)" fill="#111" stroke="#111" stroke-width="0.2">26</text>
<text x="0.00" y="0.00" font-size="7.8" text-anchor="middle" transform="translate(450.00,397.20) scale(0.91,1)" fill="#111" stroke="#111" stroke-width="0.2">11</text>
<text x="0.00" y="0.00" font-size="7.8" text-anchor="middle" transform="translate(383.20,402.10) scale(0.91,1)" fill="#111" stroke="#111" stroke-width="0.2">16</text>
<text x="0.00" y="0.00" font-size="7.8" text-anchor="middle" transform="translate(402.20,401.00) scale(0.91,1)" fill="#111" stroke="#111" stroke-width="0.2">21</text>
<text x="0.00" y="0.00" font-size="7.8" text-anchor="middle" transform="translate(419.10,405.00) scale(0.91,1)" fill="#111" stroke="#111" stroke-width="0.2">43</text>
<text x="0.00" y="0.00" font-size="7.8" text-anchor="middle" transform="translate(430.30,411.20) scale(0.91,1)" fill="#111" stroke="#111" stroke-width="0.2">85</text>
<text x="0.00" y="0.00" font-size="7.8" text-anchor="middle" transform="translate(404.50,415.80) scale(0.91,1)" fill="#111" stroke="#111" stroke-width="0.2">22</text>
<text x="413.50" y="292.70" font-size="8.2" text-anchor="middle" fill="#111" stroke="#111" stroke-width="0.2">SUDHL-6</text>
<text x="0.00" y="0.00" font-size="7.8" text-anchor="middle" transform="translate(357.50,331.70) rotate(-42)" fill="#111" stroke="#111" stroke-width="0.2">DMSO</text>
<text x="0.00" y="0.00" font-size="7.3" text-anchor="middle" transform="translate(436.10,308.20) rotate(28)" fill="#111" stroke="#111" stroke-width="0.1">IFN-<tspan font-size="0.85em" dy="0.6">γ</tspan><tspan dy="-0.6"></tspan></text>
<text x="0.00" y="0.00" font-size="7.5" text-anchor="middle" transform="translate(480.10,374.30) rotate(90)" fill="#111" stroke="#111" stroke-width="0.2">IFN-<tspan font-size="0.85em" dy="0.6">γ</tspan><tspan dy="-0.6"></tspan> + TAZ</text>
<text x="0.00" y="0.00" font-size="7.6" text-anchor="middle" transform="translate(455.20,432.60) rotate(-26.4)" fill="#111" stroke="#111" stroke-width="0.2">IFN-<tspan font-size="0.85em" dy="0.6">γ</tspan><tspan dy="-0.6"></tspan> + DAC</text>
<text x="0.00" y="0.00" font-size="7.6" text-anchor="middle" transform="translate(365.20,431.60) rotate(49.4)" fill="#111" stroke="#111" stroke-width="0.2">IFN-<tspan font-size="0.85em" dy="0.6">γ</tspan><tspan dy="-0.6"></tspan> + DAC+TAZ</text>
<circle cx="434" cy="98.6" r="33.8" fill="rgb(200,233,209)" style="mix-blend-mode:multiply"/>
<circle cx="466.3" cy="78.4" r="30.9" fill="rgb(236,189,201)" style="mix-blend-mode:multiply"/>
<circle cx="470.1" cy="101" r="21" fill="rgb(189,207,223)" style="mix-blend-mode:multiply"/>
<text x="468.00" y="42.40" font-size="8.2" text-anchor="middle" fill="#111" stroke="#111" stroke-width="0.2">SUDHL-4</text>
<text x="0.00" y="0.00" font-size="7.6" text-anchor="middle" transform="translate(471.40,66.60) scale(0.9,1)" fill="#111" stroke="#111" stroke-width="0.2">630</text>
<text x="0.00" y="0.00" font-size="7.6" text-anchor="middle" transform="translate(445.30,78.20) scale(0.9,1)" fill="#111" stroke="#111" stroke-width="0.2">280</text>
<text x="0.00" y="0.00" font-size="7.6" text-anchor="middle" transform="translate(425.10,101.70) scale(0.9,1)" fill="#111" stroke="#111" stroke-width="0.2">1140</text>
<text x="0.00" y="0.00" font-size="7.6" text-anchor="middle" transform="translate(460.80,96.60) scale(0.9,1)" fill="#111" stroke="#111" stroke-width="0.2">151</text>
<text x="0.00" y="0.00" font-size="7.6" text-anchor="middle" transform="translate(476.00,96.30) scale(0.9,1)" fill="#111" stroke="#111" stroke-width="0.2">241</text>
<text x="0.00" y="0.00" font-size="7.6" text-anchor="middle" transform="translate(459.00,115.10) scale(0.9,1)" fill="#111" stroke="#111" stroke-width="0.2">28</text>
<text x="0.00" y="0.00" font-size="7.6" text-anchor="middle" transform="translate(475.00,115.90) scale(0.9,1)" fill="#111" stroke="#111" stroke-width="0.2">80</text>
<text x="408.80" y="132.40" font-size="7" text-anchor="middle" fill="#111" stroke="#111" stroke-width="0.2">DB</text>
<text x="492.60" y="131.20" font-size="9.1" text-anchor="middle" fill="#111" stroke="#111" stroke-width="0.2">SUDHL-6</text>
<line x1="463.60" y1="100.30" x2="469.60" y2="147.50" stroke="#111" stroke-width="1.0"/>
<path d="M467.8,146.3 L472.4,145.8 L470.4,151.2 Z" fill="#231f20"/>
<circle cx="453.9" cy="180.3" r="26.6" fill="rgb(189,207,223)" style="mix-blend-mode:multiply"/>
<circle cx="485.7" cy="180.3" r="26.6" fill="rgb(236,189,201)" style="mix-blend-mode:multiply"/>
<text x="0.00" y="0.00" font-size="7.6" text-anchor="middle" transform="translate(446.80,182.00) scale(0.9,1)" fill="#111" stroke="#111" stroke-width="0.2">13428</text>
<text x="0.00" y="0.00" font-size="7.6" text-anchor="middle" transform="translate(468.90,182.90) scale(0.9,1)" fill="#111" stroke="#111" stroke-width="0.2">148</text>
<text x="0.00" y="0.00" font-size="7.6" text-anchor="middle" transform="translate(496.80,182.90) scale(0.9,1)" fill="#111" stroke="#111" stroke-width="0.2">3</text>
<text x="441.10" y="213.50" font-size="6.1" text-anchor="middle" fill="#111" stroke="#111" stroke-width="0.08">Healthy</text>
<text x="441.00" y="221.30" font-size="6.1" text-anchor="middle" fill="#111" stroke="#111" stroke-width="0.08">immunopeptidome</text>
<text x="492.10" y="213.50" font-size="6.1" text-anchor="middle" fill="#111" stroke="#111" stroke-width="0.08">Induced DLBCL</text>
<text x="491.80" y="221.30" font-size="6.1" text-anchor="middle" fill="#111" stroke="#111" stroke-width="0.08">specific ligands</text>
<rect x="0" y="0" width="520" height="1" fill="#000"/><rect x="0" y="0" width="1.1" height="464" fill="#000"/><rect x="518.8" y="0" width="1.2" height="464" fill="#000"/><rect x="0" y="462.8" width="520" height="1.2" fill="#000"/></g>
</svg>
</body></html>
